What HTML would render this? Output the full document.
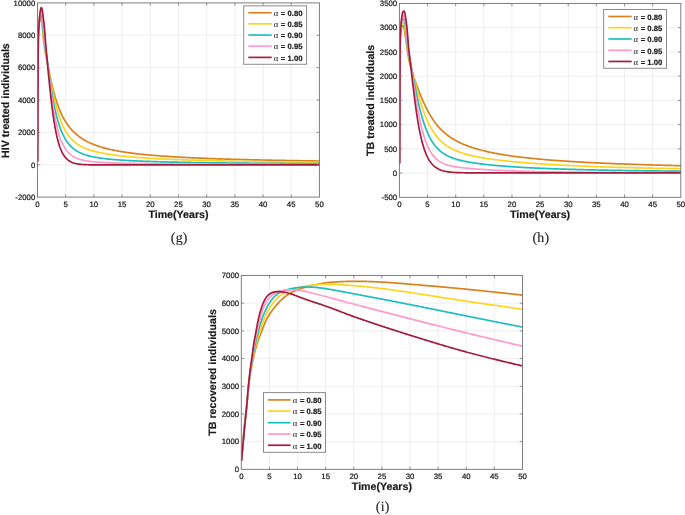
<!DOCTYPE html>
<html lang="en">
<head>
<meta charset="utf-8">
<title>Fractional-order HIV/TB model: treated and recovered individuals</title>
<style>
html,body{margin:0;padding:0;background:#fff;}
body{width:685px;height:515px;overflow:hidden;}
svg{display:block;will-change:transform;opacity:0.9999;}
text{white-space:pre;text-rendering:geometricPrecision;}
</style>
</head>
<body>
<svg width="685" height="515" viewBox="0 0 685 515">
<rect width="685" height="515" fill="#fff"/>
<g id="plot-g">
<rect x="37.5" y="2.9" width="281.90" height="194.20" fill="#fff"/>
<path d="M65.69 2.9V197.1M93.88 2.9V197.1M122.07 2.9V197.1M150.26 2.9V197.1M178.45 2.9V197.1M206.64 2.9V197.1M234.83 2.9V197.1M263.02 2.9V197.1M291.21 2.9V197.1M37.5 164.73H319.4M37.5 132.37H319.4M37.5 100.00H319.4M37.5 67.63H319.4M37.5 35.27H319.4" stroke="#e2e2e2" stroke-width="0.55" fill="none"/>
<clipPath id="clip-g"><rect x="37.2" y="2.9" width="282.50" height="194.20"/></clipPath>
<g clip-path="url(#clip-g)" fill="none" stroke-width="1.7" stroke-linejoin="round" stroke-linecap="butt">
<path d="M37.60 161.50L37.60 161.00L37.60 160.50L37.60 160.00L37.60 159.50L37.60 159.00L37.60 158.50L37.60 158.00L37.60 157.50L37.60 157.00L37.60 156.50L37.60 156.00L37.60 155.50L37.60 155.00L37.60 154.50L37.60 154.00L37.60 153.50L37.60 153.00L37.60 152.50L37.60 152.00L37.60 151.50L37.60 151.00L37.60 150.50L37.60 150.00L37.60 149.50L37.60 149.00L37.60 148.50L37.60 148.00L37.60 147.50L37.60 147.00L37.60 146.50L37.60 146.00L37.60 145.50L37.60 145.00L37.60 144.50L37.60 144.00L37.60 143.50L37.60 143.00L37.60 142.50L37.60 142.00L37.60 141.50L37.60 141.00L37.60 140.50L37.60 140.00L37.60 139.50L37.60 139.00L37.60 138.50L37.60 138.00L37.60 137.50L37.60 137.00L37.60 136.50L37.60 136.00L37.60 135.50L37.60 135.00L37.60 134.50L37.60 134.00L37.60 133.50L37.60 133.00L37.60 132.50L37.60 132.00L37.60 131.50L37.60 131.00L37.60 130.50L37.60 130.00L37.60 129.50L37.60 129.00L37.60 128.50L37.60 128.00L37.60 127.50L37.60 127.00L37.60 126.50L37.60 126.00L37.60 125.50L37.60 125.00L37.60 124.50L37.60 124.00L37.60 123.50L37.60 123.00L37.60 122.50L37.60 122.00L37.60 121.50L37.60 121.00L37.60 120.50L37.60 120.00L37.60 119.50L37.60 119.00L37.60 118.50L37.60 118.00L37.60 117.50L37.60 117.00L37.60 116.50L37.60 116.00L37.60 115.50L37.60 115.00L37.60 114.50L37.60 114.00L37.60 113.50L37.60 113.00L37.60 112.50L37.60 112.00L37.60 111.50L37.60 111.00L37.60 110.50L37.60 110.00L37.60 109.50L37.61 109.00L37.61 108.50L37.61 108.00L37.61 107.50L37.61 107.00L37.61 106.50L37.61 106.00L37.61 105.50L37.61 105.00L37.61 104.50L37.61 104.00L37.61 103.50L37.61 103.00L37.61 102.50L37.61 102.00L37.61 101.50L37.61 101.00L37.62 100.50L37.62 100.00L37.62 99.50L37.62 99.00L37.62 98.50L37.62 98.00L37.62 97.50L37.62 97.00L37.62 96.50L37.62 96.00L37.62 95.50L37.62 95.00L37.62 94.50L37.63 94.00L37.63 93.50L37.63 93.00L37.63 92.50L37.63 92.00L37.63 91.50L37.63 91.00L37.63 90.50L37.63 90.00L37.63 89.50L37.63 89.00L37.63 88.50L37.64 88.00L37.64 87.50L37.64 87.00L37.64 86.50L37.64 86.00L37.64 85.50L37.64 85.00L37.64 84.50L37.64 84.00L37.64 83.50L37.64 83.00L37.65 82.50L37.65 82.00L37.65 81.50L37.65 81.00L37.65 80.50L37.65 80.00L37.65 79.50L37.65 79.00L37.65 78.50L37.65 78.00L37.65 77.50L37.66 77.00L37.66 76.50L37.66 76.00L37.66 75.50L37.66 75.00L37.66 74.50L37.66 74.00L37.66 73.50L37.66 73.00L37.66 72.50L37.66 72.00L37.66 71.50L37.66 71.00L37.67 70.50L37.67 70.00L37.67 69.50L37.67 69.00L37.67 68.50L37.67 68.00L37.67 67.50L37.67 67.00L37.67 66.50L37.67 66.00L37.68 65.50L37.68 65.00L37.68 64.50L37.68 64.00L37.68 63.50L37.68 63.00L37.68 62.50L37.68 62.00L37.68 61.50L37.69 61.00L37.69 60.50L37.69 60.00L37.69 59.50L37.69 59.00L37.69 58.50L37.69 58.00L37.70 57.50L37.70 57.00L37.70 56.50L37.70 56.00L37.70 55.50L37.70 55.00L37.71 54.50L37.71 54.00L37.71 53.50L37.71 53.00L37.71 52.50L37.71 52.00L37.72 51.50L37.72 51.00L37.72 50.50L37.72 50.00L37.73 49.50L37.73 49.00L37.73 48.50L37.73 48.00L37.74 47.50L37.74 47.00L37.74 46.50L37.74 46.00L37.75 45.50L37.75 45.00L37.75 44.50L37.76 44.00L37.76 43.50L37.77 43.00L37.78 42.50L37.79 42.00L37.80 41.50L37.81 41.00L37.82 40.50L37.83 40.00L37.84 39.50L37.86 39.00L37.87 38.50L37.89 38.00L37.91 37.50L37.92 37.00L37.94 36.50L37.96 36.00L37.98 35.50L38.00 35.00L38.03 34.50L38.05 34.00L38.07 33.50L38.10 33.00L38.12 32.50L38.15 32.00L38.17 31.51L38.20 31.01L38.23 30.51L38.26 30.01L38.30 29.51L38.35 29.01L38.40 28.51L38.45 28.01L38.51 27.51L38.58 27.02L38.65 26.52L38.72 26.02L38.80 25.53L38.88 25.03L38.96 24.54L39.05 24.05L39.14 23.56L39.24 23.07L39.34 22.58L39.46 22.09L39.60 21.60L39.77 21.12L39.96 20.68L40.22 20.20L40.56 19.73L40.89 19.50L41.20 19.74L41.47 20.27L41.66 20.77L41.79 21.24L41.90 21.73L41.99 22.23L42.07 22.73L42.13 23.23L42.18 23.72L42.22 24.22L42.26 24.72L42.30 25.22L42.33 25.72L42.36 26.22L42.39 26.72L42.42 27.22L42.45 27.72L42.48 28.22L42.51 28.72L42.54 29.22L42.58 29.72L42.62 30.21L42.66 30.71L42.70 31.21L42.75 31.71L42.79 32.21L42.84 32.70L42.89 33.20L42.94 33.70L42.98 34.20L43.03 34.69L43.08 35.19L43.14 35.69L43.19 36.19L43.24 36.68L43.29 37.18L43.35 37.68L43.40 38.18L43.46 38.67L43.51 39.17L43.56 39.67L43.62 40.16L43.68 40.66L43.73 41.16L43.79 41.66L43.84 42.15L43.90 42.65L43.96 43.15L44.02 43.64L44.08 44.14L44.14 44.64L44.20 45.13L44.26 45.63L44.33 46.12L44.40 46.62L44.46 47.11L44.54 47.61L44.61 48.10L44.68 48.60L44.76 49.09L44.84 49.58L44.93 50.08L45.01 50.57L45.10 51.06L45.19 51.55L45.28 52.05L45.37 52.54L45.46 53.03L45.55 53.52L45.64 54.01L45.74 54.50L45.83 54.99L45.93 55.48L46.02 55.97L46.12 56.46L46.21 56.96L46.31 57.45L46.40 57.94L46.50 58.43L46.60 58.92L46.69 59.41L46.88 60.39L47.07 61.37L47.26 62.35L47.46 63.34L47.65 64.32L47.84 65.30L48.04 66.28L48.23 67.26L48.43 68.24L48.62 69.22L48.82 70.20L49.02 71.18L49.22 72.16L49.42 73.14L49.62 74.12L49.83 75.10L50.03 76.08L50.24 77.06L50.45 78.03L50.66 79.01L50.88 79.99L51.09 80.96L51.31 81.94L51.54 82.91L51.76 83.89L51.99 84.86L52.22 85.83L52.45 86.81L52.69 87.78L52.93 88.75L53.18 89.72L53.43 90.69L53.68 91.65L53.94 92.62L54.20 93.59L54.46 94.55L54.74 95.51L55.01 96.47L55.29 97.43L55.58 98.39L55.87 99.35L56.17 100.30L56.48 101.25L56.79 102.20L57.11 103.15L57.43 104.09L57.77 105.04L58.11 105.98L58.45 106.91L58.81 107.85L59.18 108.78L59.55 109.71L59.93 110.63L60.32 111.55L60.72 112.46L61.14 113.38L61.56 114.28L61.99 115.18L62.43 116.08L62.89 116.97L63.35 117.85L63.83 118.73L64.32 119.60L64.83 120.46L65.34 121.32L65.87 122.16L66.41 123.00L66.97 123.83L67.54 124.65L68.12 125.46L68.72 126.26L69.33 127.05L69.96 127.83L70.60 128.59L71.26 129.35L71.93 130.09L72.61 130.82L73.31 131.53L74.02 132.23L74.74 132.92L75.48 133.59L76.23 134.25L76.99 134.89L77.77 135.52L78.56 136.14L79.35 136.73L80.16 137.32L80.99 137.89L81.82 138.44L82.66 138.98L83.51 139.50L84.37 140.01L85.23 140.51L86.11 140.99L86.99 141.45L87.88 141.91L88.78 142.35L89.68 142.77L90.59 143.19L91.51 143.59L92.43 143.98L93.35 144.35L94.28 144.72L95.22 145.08L96.16 145.42L97.10 145.75L98.04 146.08L98.99 146.39L99.94 146.70L100.90 146.99L101.86 147.28L102.82 147.56L103.78 147.83L104.74 148.09L105.71 148.35L106.68 148.60L107.65 148.84L108.62 149.07L109.59 149.30L110.57 149.52L111.55 149.74L112.52 149.95L113.50 150.15L114.48 150.35L115.46 150.54L116.45 150.73L117.43 150.91L118.41 151.09L119.40 151.27L120.38 151.44L121.37 151.60L122.35 151.77L123.34 151.92L124.33 152.08L125.32 152.23L126.31 152.38L127.30 152.52L128.29 152.66L129.28 152.80L130.27 152.93L131.26 153.06L132.25 153.19L133.24 153.32L134.24 153.44L135.23 153.56L136.22 153.68L137.22 153.79L138.21 153.91L139.20 154.02L140.20 154.12L141.19 154.23L142.19 154.33L143.18 154.43L144.18 154.53L145.17 154.63L146.17 154.73L147.16 154.82L148.16 154.92L149.15 155.01L150.15 155.10L151.14 155.19L152.14 155.27L153.14 155.35L154.13 155.44L155.13 155.52L156.13 155.60L157.12 155.68L158.12 155.76L159.12 155.83L160.12 155.91L161.11 155.98L162.11 156.05L163.11 156.12L164.11 156.20L165.10 156.26L166.10 156.33L167.10 156.40L168.10 156.46L169.09 156.53L170.09 156.59L171.09 156.66L172.09 156.72L173.09 156.78L174.08 156.84L175.08 156.90L176.08 156.96L177.08 157.01L178.08 157.07L179.08 157.13L180.07 157.18L181.07 157.24L182.07 157.29L183.07 157.34L184.07 157.39L185.07 157.44L186.07 157.49L187.06 157.54L188.06 157.59L189.06 157.64L190.06 157.69L191.06 157.74L192.06 157.78L193.06 157.83L194.06 157.87L195.06 157.92L196.06 157.96L197.05 158.01L198.05 158.05L199.05 158.09L200.05 158.14L201.05 158.18L202.05 158.22L203.05 158.26L204.05 158.30L205.05 158.34L206.05 158.38L207.05 158.42L208.04 158.45L209.04 158.49L210.04 158.53L211.04 158.57L212.04 158.60L213.04 158.64L214.04 158.68L215.04 158.71L216.04 158.75L217.04 158.78L218.04 158.81L219.04 158.85L220.04 158.88L221.04 158.91L222.04 158.95L223.04 158.98L224.03 159.01L225.03 159.04L226.03 159.07L227.03 159.10L228.03 159.14L229.03 159.17L230.03 159.20L231.03 159.23L232.03 159.25L233.03 159.28L234.03 159.31L235.03 159.34L236.03 159.37L237.03 159.40L238.03 159.42L239.03 159.45L240.03 159.48L241.03 159.51L242.03 159.53L243.03 159.56L244.03 159.59L245.03 159.61L246.03 159.64L247.03 159.66L248.03 159.69L249.02 159.71L250.02 159.74L251.02 159.76L252.02 159.79L253.02 159.81L254.02 159.83L255.02 159.86L256.02 159.88L257.02 159.90L258.02 159.92L259.02 159.95L260.02 159.97L261.02 159.99L262.02 160.01L263.02 160.04L264.02 160.06L265.02 160.08L266.02 160.10L267.02 160.12L268.02 160.14L269.02 160.16L270.02 160.18L271.02 160.20L272.02 160.23L273.02 160.24L274.02 160.26L275.02 160.28L276.02 160.30L277.02 160.32L278.02 160.34L279.02 160.36L280.02 160.38L281.02 160.40L282.02 160.42L283.02 160.43L284.02 160.45L285.02 160.47L286.02 160.49L287.02 160.51L288.02 160.52L289.02 160.54L290.02 160.56L291.02 160.58L292.02 160.59L293.02 160.61L294.02 160.63L295.01 160.64L296.01 160.66L297.01 160.68L298.01 160.69L299.01 160.71L300.01 160.73L301.01 160.74L302.01 160.76L303.01 160.77L304.01 160.79L305.01 160.80L306.01 160.82L307.01 160.83L308.01 160.85L309.01 160.86L310.01 160.88L311.01 160.89L312.01 160.91L313.01 160.92L314.01 160.94L315.01 160.95L316.01 160.97L317.01 160.98L318.01 160.99L319.00 161.01L320.00 161.02" stroke="#D9821E"/>
<path d="M37.60 161.50L37.60 161.00L37.60 160.50L37.60 160.00L37.60 159.50L37.60 159.00L37.60 158.50L37.60 158.00L37.60 157.50L37.60 157.00L37.60 156.50L37.60 156.00L37.60 155.50L37.60 155.00L37.60 154.50L37.60 154.00L37.60 153.50L37.60 153.00L37.60 152.50L37.60 152.00L37.60 151.50L37.60 151.00L37.60 150.50L37.60 150.00L37.60 149.50L37.60 149.00L37.60 148.50L37.60 148.00L37.60 147.50L37.60 147.00L37.60 146.50L37.60 146.00L37.60 145.50L37.60 145.00L37.60 144.50L37.60 144.00L37.60 143.50L37.60 143.00L37.61 142.50L37.61 142.00L37.61 141.50L37.61 141.00L37.61 140.50L37.61 140.00L37.61 139.50L37.61 139.00L37.61 138.50L37.61 138.00L37.61 137.50L37.61 137.00L37.61 136.50L37.61 136.00L37.61 135.50L37.61 135.00L37.61 134.50L37.61 134.00L37.61 133.50L37.61 133.00L37.61 132.50L37.61 132.00L37.61 131.50L37.61 131.00L37.61 130.50L37.61 130.00L37.61 129.50L37.61 129.00L37.61 128.50L37.61 128.00L37.61 127.50L37.61 127.00L37.62 126.50L37.62 126.00L37.62 125.50L37.62 125.00L37.62 124.50L37.62 124.00L37.62 123.50L37.62 123.00L37.62 122.50L37.62 122.00L37.62 121.50L37.62 121.00L37.62 120.50L37.62 120.00L37.62 119.50L37.62 119.00L37.62 118.50L37.62 118.00L37.62 117.50L37.62 117.00L37.62 116.50L37.62 116.00L37.62 115.50L37.63 115.00L37.63 114.50L37.63 114.00L37.63 113.50L37.63 113.00L37.63 112.50L37.63 112.00L37.63 111.50L37.63 111.00L37.63 110.50L37.63 110.00L37.63 109.50L37.63 109.00L37.64 108.50L37.64 108.00L37.64 107.50L37.64 107.00L37.64 106.50L37.64 106.00L37.64 105.50L37.64 105.00L37.64 104.50L37.64 104.00L37.64 103.50L37.65 103.00L37.65 102.50L37.65 102.00L37.65 101.50L37.65 101.00L37.65 100.50L37.65 100.00L37.65 99.50L37.65 99.00L37.66 98.50L37.66 98.00L37.66 97.50L37.66 97.00L37.66 96.50L37.66 96.00L37.66 95.50L37.66 95.00L37.66 94.50L37.67 94.00L37.67 93.50L37.67 93.00L37.67 92.50L37.67 92.00L37.67 91.50L37.67 91.00L37.67 90.50L37.68 90.00L37.68 89.50L37.68 89.00L37.68 88.50L37.68 88.00L37.68 87.50L37.68 87.00L37.68 86.50L37.69 86.00L37.69 85.50L37.69 85.00L37.69 84.50L37.69 84.00L37.69 83.50L37.69 83.00L37.69 82.50L37.70 82.00L37.70 81.50L37.70 81.00L37.70 80.50L37.70 80.00L37.70 79.50L37.70 79.00L37.70 78.50L37.70 78.00L37.71 77.50L37.71 77.00L37.71 76.50L37.71 76.00L37.71 75.50L37.71 75.00L37.71 74.50L37.71 74.00L37.71 73.50L37.71 73.00L37.72 72.50L37.72 72.00L37.72 71.50L37.72 71.00L37.72 70.50L37.72 70.00L37.72 69.50L37.72 69.00L37.72 68.50L37.72 68.00L37.72 67.50L37.73 67.00L37.73 66.50L37.73 66.00L37.73 65.50L37.73 65.00L37.73 64.50L37.73 64.00L37.73 63.50L37.73 63.00L37.73 62.50L37.74 62.00L37.74 61.50L37.74 61.00L37.74 60.50L37.74 60.00L37.74 59.50L37.74 59.00L37.74 58.50L37.75 58.00L37.75 57.50L37.75 57.00L37.75 56.50L37.75 56.00L37.75 55.50L37.76 55.00L37.76 54.50L37.76 54.00L37.76 53.50L37.76 53.00L37.76 52.50L37.77 52.00L37.77 51.50L37.77 51.00L37.77 50.50L37.77 50.00L37.78 49.50L37.78 49.00L37.78 48.50L37.78 48.00L37.79 47.50L37.79 47.00L37.79 46.50L37.79 46.00L37.80 45.50L37.80 45.00L37.80 44.50L37.81 44.00L37.81 43.50L37.82 43.00L37.83 42.50L37.83 42.00L37.84 41.50L37.85 41.00L37.86 40.50L37.87 40.00L37.88 39.50L37.90 39.00L37.91 38.50L37.92 38.00L37.94 37.50L37.95 36.99L37.97 36.49L37.99 35.99L38.00 35.49L38.02 34.99L38.04 34.49L38.06 33.99L38.08 33.50L38.10 33.00L38.13 32.50L38.15 32.00L38.17 31.50L38.20 31.00L38.22 30.50L38.25 30.00L38.27 29.51L38.30 29.01L38.33 28.51L38.36 28.01L38.40 27.51L38.45 27.01L38.50 26.51L38.55 26.01L38.61 25.51L38.68 25.02L38.75 24.52L38.82 24.02L38.90 23.53L38.98 23.03L39.06 22.54L39.15 22.05L39.24 21.56L39.34 21.07L39.44 20.59L39.56 20.09L39.70 19.60L39.87 19.13L40.06 18.68L40.32 18.20L40.66 17.73L40.99 17.50L41.30 17.74L41.57 18.27L41.76 18.77L41.89 19.24L42.00 19.73L42.09 20.23L42.17 20.73L42.23 21.23L42.28 21.72L42.32 22.22L42.36 22.72L42.40 23.22L42.43 23.72L42.46 24.21L42.49 24.71L42.52 25.22L42.55 25.72L42.58 26.22L42.61 26.72L42.64 27.22L42.68 27.72L42.72 28.21L42.76 28.71L42.80 29.21L42.85 29.71L42.89 30.21L42.94 30.70L42.99 31.20L43.03 31.70L43.08 32.20L43.13 32.69L43.18 33.19L43.23 33.69L43.28 34.19L43.33 34.68L43.39 35.18L43.44 35.68L43.49 36.18L43.54 36.67L43.60 37.17L43.65 37.67L43.70 38.17L43.76 38.66L43.81 39.16L43.86 39.66L43.92 40.15L43.97 40.65L44.02 41.15L44.07 41.65L44.12 42.14L44.18 42.64L44.23 43.14L44.28 43.64L44.34 44.13L44.39 44.63L44.45 45.13L44.51 45.62L44.57 46.12L44.63 46.62L44.69 47.11L44.76 47.61L44.83 48.10L44.90 48.60L44.97 49.09L45.04 49.59L45.12 50.08L45.20 50.57L45.28 51.07L45.36 51.56L45.44 52.05L45.52 52.55L45.61 53.04L45.70 53.53L45.78 54.02L45.87 54.52L45.96 55.01L46.04 55.50L46.13 55.99L46.22 56.48L46.31 56.98L46.40 57.47L46.57 58.45L46.75 59.44L46.93 60.42L47.10 61.41L47.28 62.39L47.45 63.37L47.63 64.36L47.81 65.34L47.98 66.33L48.16 67.31L48.34 68.30L48.51 69.28L48.69 70.26L48.87 71.25L49.04 72.23L49.22 73.22L49.40 74.20L49.58 75.18L49.76 76.17L49.94 77.15L50.12 78.13L50.31 79.12L50.49 80.10L50.68 81.08L50.86 82.07L51.05 83.05L51.24 84.03L51.43 85.01L51.62 85.99L51.82 86.97L52.01 87.95L52.21 88.93L52.41 89.91L52.61 90.89L52.82 91.87L53.02 92.85L53.23 93.83L53.44 94.81L53.66 95.78L53.87 96.76L54.09 97.73L54.32 98.71L54.54 99.68L54.77 100.66L55.01 101.63L55.24 102.60L55.48 103.57L55.73 104.54L55.98 105.51L56.23 106.48L56.49 107.44L56.75 108.41L57.02 109.37L57.29 110.33L57.57 111.29L57.86 112.25L58.15 113.21L58.45 114.16L58.75 115.11L59.06 116.06L59.38 117.01L59.71 117.96L60.04 118.90L60.38 119.84L60.74 120.77L61.10 121.70L61.47 122.63L61.86 123.55L62.25 124.47L62.66 125.38L63.07 126.29L63.50 127.19L63.95 128.09L64.41 128.98L64.88 129.86L65.37 130.73L65.87 131.59L66.39 132.44L66.93 133.28L67.48 134.11L68.06 134.93L68.65 135.73L69.26 136.52L69.89 137.29L70.54 138.05L71.21 138.79L71.90 139.51L72.60 140.21L73.33 140.89L74.08 141.55L74.84 142.20L75.62 142.81L76.42 143.41L77.23 143.99L78.06 144.54L78.90 145.07L79.76 145.59L80.63 146.08L81.51 146.55L82.40 147.00L83.30 147.43L84.21 147.84L85.12 148.24L86.05 148.61L86.98 148.98L87.91 149.32L88.86 149.66L89.80 149.97L90.75 150.28L91.71 150.57L92.67 150.85L93.63 151.12L94.60 151.38L95.57 151.63L96.54 151.87L97.51 152.10L98.48 152.32L99.46 152.54L100.44 152.75L101.42 152.95L102.40 153.14L103.38 153.33L104.36 153.51L105.35 153.69L106.33 153.86L107.32 154.02L108.30 154.18L109.29 154.34L110.28 154.49L111.27 154.63L112.26 154.78L113.25 154.92L114.24 155.05L115.23 155.18L116.22 155.31L117.22 155.44L118.21 155.56L119.20 155.68L120.19 155.79L121.19 155.90L122.18 156.01L123.18 156.12L124.17 156.22L125.17 156.33L126.16 156.43L127.16 156.52L128.15 156.62L129.15 156.71L130.14 156.80L131.14 156.89L132.13 156.98L133.13 157.07L134.13 157.15L135.12 157.23L136.12 157.31L137.12 157.39L138.11 157.47L139.11 157.54L140.11 157.62L141.11 157.69L142.10 157.76L143.10 157.83L144.10 157.90L145.10 157.97L146.09 158.03L147.09 158.10L148.09 158.16L149.09 158.22L150.09 158.28L151.08 158.34L152.08 158.40L153.08 158.46L154.08 158.52L155.08 158.58L156.08 158.63L157.07 158.69L158.07 158.74L159.07 158.79L160.07 158.84L161.07 158.89L162.07 158.94L163.07 158.99L164.07 159.04L165.06 159.09L166.06 159.13L167.06 159.18L168.06 159.23L169.06 159.27L170.06 159.31L171.06 159.36L172.06 159.40L173.06 159.44L174.06 159.48L175.06 159.53L176.05 159.57L177.05 159.61L178.05 159.64L179.05 159.68L180.05 159.72L181.05 159.76L182.05 159.79L183.05 159.83L184.05 159.87L185.05 159.90L186.05 159.94L187.05 159.97L188.05 160.00L189.05 160.04L190.04 160.07L191.04 160.10L192.04 160.14L193.04 160.17L194.04 160.20L195.04 160.23L196.04 160.26L197.04 160.29L198.04 160.32L199.04 160.35L200.04 160.38L201.04 160.41L202.04 160.44L203.04 160.46L204.04 160.49L205.04 160.52L206.04 160.54L207.04 160.57L208.04 160.60L209.04 160.62L210.04 160.65L211.04 160.67L212.04 160.70L213.04 160.72L214.04 160.75L215.03 160.77L216.03 160.80L217.03 160.82L218.03 160.84L219.03 160.87L220.03 160.89L221.03 160.91L222.03 160.94L223.03 160.96L224.03 160.98L225.03 161.00L226.03 161.02L227.03 161.05L228.03 161.07L229.03 161.09L230.03 161.11L231.03 161.13L232.03 161.15L233.03 161.17L234.03 161.19L235.03 161.21L236.03 161.23L237.03 161.24L238.03 161.26L239.03 161.28L240.03 161.30L241.03 161.32L242.03 161.34L243.03 161.35L244.03 161.37L245.03 161.39L246.03 161.41L247.03 161.42L248.03 161.44L249.03 161.46L250.03 161.48L251.03 161.49L252.03 161.51L253.03 161.52L254.03 161.54L255.03 161.56L256.03 161.57L257.03 161.59L258.03 161.60L259.03 161.62L260.03 161.63L261.03 161.65L262.03 161.66L263.03 161.68L264.03 161.69L265.03 161.71L266.03 161.72L267.03 161.74L268.02 161.75L269.02 161.77L270.02 161.78L271.02 161.79L272.02 161.81L273.02 161.82L274.02 161.84L275.02 161.85L276.02 161.86L277.02 161.88L278.02 161.89L279.02 161.90L280.02 161.91L281.02 161.93L282.02 161.94L283.02 161.95L284.02 161.96L285.02 161.98L286.02 161.99L287.02 162.00L288.02 162.01L289.02 162.02L290.02 162.04L291.02 162.05L292.02 162.06L293.02 162.07L294.02 162.08L295.02 162.09L296.02 162.10L297.02 162.12L298.02 162.13L299.02 162.14L300.02 162.15L301.02 162.16L302.02 162.17L303.02 162.18L304.02 162.19L305.02 162.20L306.02 162.21L307.02 162.22L308.02 162.23L309.02 162.24L310.02 162.25L311.02 162.26L312.02 162.27L313.02 162.28L314.02 162.29L315.02 162.30L316.02 162.31L317.01 162.32L318.01 162.33L319.01 162.34L320.00 162.35" stroke="#FDD420"/>
<path d="M37.60 161.50L37.60 161.00L37.60 160.50L37.60 160.00L37.60 159.50L37.60 159.00L37.60 158.50L37.60 158.00L37.60 157.50L37.60 157.00L37.60 156.50L37.60 156.00L37.60 155.50L37.60 155.00L37.60 154.50L37.61 154.00L37.61 153.50L37.61 153.00L37.61 152.50L37.61 152.00L37.61 151.50L37.61 151.00L37.61 150.50L37.61 150.00L37.61 149.50L37.61 149.00L37.61 148.50L37.61 148.00L37.61 147.50L37.61 147.00L37.61 146.50L37.61 146.00L37.61 145.50L37.61 145.00L37.61 144.50L37.62 144.00L37.62 143.50L37.62 143.00L37.62 142.50L37.62 142.00L37.62 141.50L37.62 141.00L37.62 140.50L37.62 140.00L37.62 139.50L37.62 139.00L37.62 138.50L37.62 138.00L37.62 137.50L37.62 137.00L37.62 136.50L37.63 136.00L37.63 135.50L37.63 135.00L37.63 134.50L37.63 134.00L37.63 133.50L37.63 133.00L37.63 132.50L37.63 132.00L37.63 131.50L37.63 131.00L37.63 130.50L37.63 130.00L37.64 129.50L37.64 129.00L37.64 128.50L37.64 128.00L37.64 127.50L37.64 127.00L37.64 126.50L37.64 126.00L37.64 125.50L37.64 125.00L37.64 124.50L37.64 124.00L37.64 123.50L37.65 123.00L37.65 122.50L37.65 122.00L37.65 121.50L37.65 121.00L37.65 120.50L37.65 120.00L37.65 119.50L37.65 119.00L37.65 118.50L37.65 118.00L37.65 117.50L37.66 117.00L37.66 116.50L37.66 116.00L37.66 115.50L37.66 115.00L37.66 114.50L37.66 114.00L37.66 113.50L37.66 113.00L37.66 112.50L37.66 112.00L37.67 111.50L37.67 111.00L37.67 110.50L37.67 110.00L37.67 109.50L37.67 109.00L37.67 108.50L37.67 108.00L37.67 107.50L37.68 107.00L37.68 106.50L37.68 106.00L37.68 105.50L37.68 105.00L37.68 104.50L37.68 104.00L37.68 103.50L37.68 103.00L37.69 102.50L37.69 102.00L37.69 101.50L37.69 101.00L37.69 100.50L37.69 100.00L37.69 99.50L37.69 99.00L37.70 98.50L37.70 98.00L37.70 97.50L37.70 97.00L37.70 96.50L37.70 96.00L37.70 95.50L37.71 95.00L37.71 94.50L37.71 94.00L37.71 93.50L37.71 93.00L37.71 92.50L37.71 92.00L37.72 91.50L37.72 91.00L37.72 90.50L37.72 90.00L37.72 89.50L37.72 89.00L37.72 88.50L37.73 88.00L37.73 87.50L37.73 87.00L37.73 86.50L37.73 86.00L37.73 85.50L37.73 85.00L37.74 84.50L37.74 84.00L37.74 83.50L37.74 83.00L37.74 82.50L37.74 82.00L37.75 81.50L37.75 81.00L37.75 80.50L37.75 80.00L37.75 79.50L37.75 79.00L37.75 78.50L37.76 78.00L37.76 77.50L37.76 77.00L37.76 76.50L37.76 76.00L37.76 75.50L37.76 75.00L37.77 74.50L37.77 74.00L37.77 73.50L37.77 73.00L37.77 72.50L37.77 72.00L37.77 71.50L37.78 71.00L37.78 70.50L37.78 70.00L37.78 69.50L37.78 69.00L37.78 68.50L37.78 68.00L37.79 67.50L37.79 67.00L37.79 66.50L37.79 66.00L37.79 65.50L37.79 65.00L37.80 64.50L37.80 64.00L37.80 63.50L37.80 63.00L37.80 62.50L37.80 62.00L37.81 61.50L37.81 61.00L37.81 60.50L37.81 60.00L37.81 59.50L37.82 59.00L37.82 58.50L37.82 58.00L37.82 57.50L37.82 57.00L37.83 56.50L37.83 56.00L37.83 55.50L37.83 55.00L37.84 54.50L37.84 54.00L37.84 53.50L37.85 53.00L37.85 52.50L37.85 52.00L37.85 51.50L37.86 51.00L37.86 50.50L37.86 50.00L37.87 49.50L37.87 49.00L37.87 48.50L37.88 48.00L37.88 47.50L37.88 47.00L37.89 46.50L37.89 46.00L37.90 45.50L37.90 45.00L37.90 44.50L37.91 44.00L37.92 43.50L37.92 43.00L37.93 42.50L37.94 42.00L37.95 41.50L37.96 41.00L37.97 40.50L37.98 40.00L37.99 39.50L38.00 39.00L38.02 38.50L38.03 38.00L38.05 37.50L38.06 37.00L38.08 36.50L38.10 36.00L38.11 35.50L38.13 35.00L38.15 34.50L38.17 34.00L38.19 33.50L38.21 33.00L38.23 32.50L38.25 32.00L38.28 31.50L38.30 31.00L38.32 30.50L38.35 30.00L38.37 29.50L38.40 29.01L38.42 28.51L38.45 28.01L38.48 27.51L38.51 27.01L38.54 26.51L38.58 26.01L38.62 25.51L38.67 25.01L38.72 24.51L38.77 24.01L38.83 23.51L38.88 23.01L38.95 22.51L39.01 22.02L39.08 21.52L39.16 21.03L39.23 20.53L39.31 20.04L39.40 19.55L39.49 19.07L39.59 18.58L39.71 18.09L39.85 17.60L40.02 17.12L40.22 16.67L40.47 16.19L40.80 15.71L41.11 15.50L41.42 15.78L41.69 16.32L41.87 16.80L42.00 17.28L42.11 17.77L42.20 18.27L42.27 18.77L42.33 19.27L42.38 19.76L42.43 20.26L42.48 20.75L42.52 21.25L42.55 21.75L42.59 22.25L42.62 22.75L42.65 23.25L42.68 23.75L42.71 24.25L42.74 24.75L42.77 25.25L42.81 25.75L42.84 26.25L42.88 26.75L42.92 27.25L42.96 27.74L43.01 28.24L43.05 28.74L43.10 29.24L43.15 29.74L43.19 30.23L43.24 30.73L43.29 31.23L43.34 31.73L43.39 32.22L43.44 32.72L43.49 33.22L43.54 33.72L43.59 34.21L43.64 34.71L43.70 35.21L43.75 35.71L43.80 36.20L43.85 36.70L43.90 37.20L43.96 37.70L44.01 38.19L44.06 38.69L44.11 39.19L44.16 39.69L44.21 40.18L44.26 40.68L44.31 41.18L44.36 41.68L44.40 42.18L44.45 42.68L44.50 43.18L44.55 43.67L44.60 44.17L44.65 44.67L44.71 45.17L44.76 45.66L44.82 46.16L44.88 46.66L44.95 47.15L45.02 47.65L45.09 48.14L45.16 48.63L45.24 49.12L45.33 49.62L45.41 50.11L45.50 50.60L45.59 51.09L45.68 51.58L45.77 52.07L45.86 52.56L45.95 53.05L46.04 53.54L46.13 54.03L46.22 54.53L46.31 55.02L46.40 55.51L46.48 56.00L46.56 56.50L46.73 57.48L46.88 58.47L47.04 59.46L47.19 60.45L47.33 61.44L47.48 62.42L47.62 63.41L47.76 64.40L47.90 65.39L48.04 66.39L48.18 67.38L48.32 68.37L48.45 69.36L48.59 70.35L48.73 71.34L48.86 72.33L49.00 73.32L49.14 74.31L49.28 75.30L49.42 76.29L49.55 77.28L49.69 78.27L49.84 79.26L49.98 80.25L50.12 81.24L50.26 82.23L50.41 83.22L50.55 84.21L50.70 85.20L50.85 86.19L51.00 87.18L51.15 88.16L51.30 89.15L51.46 90.14L51.62 91.13L51.77 92.11L51.93 93.10L52.10 94.09L52.26 95.07L52.43 96.06L52.60 97.05L52.77 98.03L52.94 99.02L53.12 100.00L53.30 100.98L53.48 101.97L53.67 102.95L53.86 103.93L54.05 104.91L54.25 105.89L54.45 106.87L54.65 107.85L54.86 108.83L55.07 109.81L55.29 110.78L55.51 111.76L55.73 112.73L55.96 113.71L56.20 114.68L56.44 115.65L56.69 116.62L56.94 117.58L57.20 118.55L57.46 119.51L57.73 120.48L58.01 121.44L58.29 122.39L58.59 123.35L58.89 124.30L59.20 125.25L59.52 126.20L59.85 127.15L60.19 128.09L60.53 129.02L60.89 129.95L61.27 130.88L61.65 131.80L62.05 132.72L62.46 133.63L62.88 134.54L63.32 135.43L63.77 136.32L64.24 137.21L64.73 138.08L65.23 138.94L65.75 139.79L66.29 140.63L66.85 141.45L67.43 142.26L68.04 143.06L68.66 143.84L69.30 144.60L69.97 145.34L70.65 146.06L71.36 146.76L72.09 147.44L72.84 148.09L73.61 148.73L74.40 149.33L75.21 149.91L76.03 150.47L76.87 151.00L77.73 151.51L78.60 151.99L79.49 152.45L80.39 152.89L81.29 153.30L82.21 153.68L83.14 154.05L84.08 154.40L85.02 154.73L85.97 155.04L86.92 155.33L87.88 155.61L88.85 155.87L89.81 156.12L90.78 156.35L91.76 156.57L92.74 156.78L93.72 156.98L94.70 157.17L95.68 157.35L96.67 157.52L97.65 157.69L98.64 157.84L99.63 157.99L100.62 158.13L101.61 158.27L102.60 158.40L103.59 158.52L104.58 158.64L105.58 158.75L106.57 158.86L107.57 158.97L108.56 159.07L109.56 159.17L110.55 159.26L111.55 159.36L112.54 159.44L113.54 159.53L114.54 159.61L115.53 159.69L116.53 159.77L117.53 159.84L118.52 159.92L119.52 159.99L120.52 160.06L121.52 160.12L122.51 160.19L123.51 160.25L124.51 160.31L125.51 160.37L126.51 160.43L127.51 160.49L128.50 160.54L129.50 160.59L130.50 160.65L131.50 160.70L132.50 160.75L133.50 160.80L134.50 160.85L135.50 160.89L136.49 160.94L137.49 160.98L138.49 161.03L139.49 161.07L140.49 161.11L141.49 161.16L142.49 161.20L143.49 161.23L144.49 161.27L145.49 161.31L146.49 161.35L147.49 161.38L148.48 161.42L149.48 161.45L150.48 161.49L151.48 161.52L152.48 161.55L153.48 161.59L154.48 161.62L155.48 161.65L156.48 161.68L157.48 161.71L158.48 161.74L159.48 161.77L160.48 161.80L161.48 161.83L162.48 161.85L163.48 161.88L164.48 161.91L165.48 161.93L166.48 161.96L167.48 161.99L168.48 162.01L169.48 162.04L170.47 162.06L171.47 162.08L172.47 162.11L173.47 162.13L174.47 162.15L175.47 162.17L176.47 162.20L177.47 162.22L178.47 162.24L179.47 162.26L180.47 162.28L181.47 162.30L182.47 162.32L183.47 162.34L184.47 162.36L185.47 162.38L186.47 162.40L187.47 162.42L188.47 162.44L189.47 162.45L190.47 162.47L191.47 162.49L192.47 162.51L193.47 162.52L194.47 162.54L195.47 162.56L196.47 162.57L197.47 162.59L198.47 162.61L199.47 162.62L200.47 162.64L201.47 162.65L202.47 162.67L203.47 162.69L204.47 162.70L205.47 162.72L206.47 162.73L207.47 162.74L208.47 162.76L209.47 162.77L210.47 162.79L211.47 162.80L212.47 162.81L213.47 162.83L214.47 162.84L215.47 162.85L216.47 162.87L217.47 162.88L218.47 162.89L219.47 162.90L220.47 162.91L221.47 162.93L222.47 162.94L223.47 162.95L224.47 162.96L225.47 162.97L226.47 162.98L227.47 163.00L228.47 163.01L229.47 163.02L230.47 163.03L231.47 163.04L232.47 163.05L233.47 163.06L234.47 163.07L235.47 163.08L236.47 163.09L237.47 163.10L238.47 163.11L239.47 163.12L240.47 163.13L241.47 163.14L242.47 163.15L243.47 163.16L244.47 163.17L245.47 163.18L246.47 163.19L247.47 163.20L248.47 163.21L249.47 163.22L250.46 163.23L251.46 163.23L252.46 163.24L253.46 163.25L254.46 163.26L255.46 163.27L256.46 163.28L257.46 163.29L258.46 163.29L259.46 163.30L260.46 163.31L261.46 163.32L262.46 163.33L263.46 163.33L264.46 163.34L265.46 163.35L266.46 163.36L267.46 163.36L268.46 163.37L269.46 163.38L270.46 163.39L271.46 163.39L272.46 163.40L273.46 163.41L274.46 163.41L275.46 163.42L276.46 163.43L277.46 163.43L278.46 163.44L279.46 163.45L280.46 163.45L281.46 163.46L282.46 163.47L283.46 163.47L284.46 163.48L285.46 163.49L286.46 163.49L287.46 163.50L288.46 163.51L289.46 163.51L290.46 163.52L291.46 163.53L292.46 163.53L293.46 163.54L294.46 163.54L295.46 163.55L296.46 163.56L297.46 163.56L298.46 163.57L299.46 163.57L300.46 163.58L301.46 163.58L302.46 163.59L303.46 163.60L304.46 163.60L305.46 163.61L306.46 163.61L307.46 163.62L308.46 163.62L309.46 163.63L310.46 163.63L311.46 163.64L312.46 163.64L313.45 163.65L314.44 163.65L315.42 163.66L316.38 163.66L317.32 163.67L318.23 163.67L319.12 163.68L320.00 163.68" stroke="#1CBEC0"/>
<path d="M37.60 161.50L37.60 161.00L37.60 160.50L37.60 160.00L37.60 159.50L37.60 159.00L37.61 158.50L37.61 158.00L37.61 157.50L37.61 157.00L37.61 156.50L37.61 156.00L37.61 155.50L37.61 155.00L37.61 154.50L37.61 154.00L37.62 153.50L37.62 153.00L37.62 152.50L37.62 152.00L37.62 151.50L37.62 151.00L37.62 150.50L37.62 150.00L37.62 149.50L37.62 149.00L37.63 148.50L37.63 148.00L37.63 147.50L37.63 147.00L37.63 146.50L37.63 146.00L37.63 145.50L37.63 145.00L37.63 144.50L37.64 144.00L37.64 143.50L37.64 143.00L37.64 142.50L37.64 142.00L37.64 141.50L37.64 141.00L37.64 140.50L37.65 140.00L37.65 139.50L37.65 139.00L37.65 138.50L37.65 138.00L37.65 137.50L37.65 137.00L37.65 136.50L37.66 136.00L37.66 135.50L37.66 135.00L37.66 134.50L37.66 134.00L37.66 133.50L37.66 133.00L37.66 132.50L37.67 132.00L37.67 131.50L37.67 131.00L37.67 130.50L37.67 130.00L37.67 129.50L37.67 129.00L37.68 128.50L37.68 128.00L37.68 127.50L37.68 127.00L37.68 126.50L37.68 126.00L37.68 125.50L37.69 125.00L37.69 124.50L37.69 124.00L37.69 123.50L37.69 123.00L37.69 122.50L37.69 122.00L37.70 121.50L37.70 121.00L37.70 120.50L37.70 120.00L37.70 119.50L37.70 119.00L37.70 118.50L37.71 118.00L37.71 117.50L37.71 117.00L37.71 116.50L37.71 116.00L37.71 115.50L37.72 115.00L37.72 114.50L37.72 114.00L37.72 113.50L37.72 113.00L37.72 112.50L37.73 112.00L37.73 111.50L37.73 111.00L37.73 110.50L37.73 110.00L37.73 109.50L37.74 109.00L37.74 108.50L37.74 108.00L37.74 107.50L37.74 107.00L37.75 106.50L37.75 106.00L37.75 105.50L37.75 105.00L37.75 104.50L37.75 104.00L37.76 103.50L37.76 103.00L37.76 102.50L37.76 102.00L37.76 101.50L37.77 101.00L37.77 100.50L37.77 100.00L37.77 99.50L37.77 99.00L37.78 98.50L37.78 98.00L37.78 97.50L37.78 97.00L37.78 96.50L37.79 96.00L37.79 95.50L37.79 95.00L37.79 94.50L37.79 94.00L37.80 93.50L37.80 93.00L37.80 92.50L37.80 92.00L37.80 91.50L37.81 91.00L37.81 90.50L37.81 90.00L37.81 89.50L37.81 89.00L37.82 88.50L37.82 88.00L37.82 87.50L37.82 87.00L37.82 86.50L37.83 86.00L37.83 85.50L37.83 85.00L37.83 84.50L37.83 84.00L37.84 83.50L37.84 83.00L37.84 82.50L37.84 82.00L37.84 81.50L37.85 81.00L37.85 80.50L37.85 80.00L37.85 79.50L37.85 79.00L37.86 78.50L37.86 78.00L37.86 77.50L37.86 77.00L37.86 76.50L37.86 76.00L37.87 75.50L37.87 75.00L37.87 74.50L37.87 74.00L37.87 73.50L37.87 73.00L37.88 72.50L37.88 72.00L37.88 71.50L37.88 71.00L37.88 70.50L37.88 70.00L37.88 69.50L37.89 69.00L37.89 68.50L37.89 68.00L37.89 67.50L37.89 67.00L37.89 66.50L37.90 66.00L37.90 65.50L37.90 65.00L37.90 64.50L37.90 64.00L37.90 63.50L37.90 63.00L37.91 62.50L37.91 62.00L37.91 61.50L37.91 61.00L37.91 60.50L37.92 60.00L37.92 59.50L37.92 59.00L37.92 58.50L37.92 58.00L37.93 57.50L37.93 57.00L37.93 56.50L37.93 56.00L37.93 55.50L37.94 55.00L37.94 54.50L37.94 54.00L37.94 53.50L37.95 53.00L37.95 52.50L37.95 52.00L37.95 51.50L37.96 51.00L37.96 50.50L37.96 50.00L37.97 49.50L37.97 49.00L37.97 48.50L37.98 48.00L37.98 47.50L37.98 47.00L37.99 46.50L37.99 46.00L38.00 45.50L38.00 45.00L38.00 44.50L38.01 44.00L38.02 43.50L38.02 43.00L38.03 42.50L38.04 42.00L38.05 41.50L38.06 41.00L38.07 40.50L38.08 40.00L38.10 39.50L38.11 39.00L38.12 38.50L38.14 38.00L38.15 37.50L38.17 37.00L38.19 36.50L38.20 36.00L38.22 35.50L38.24 35.00L38.26 34.50L38.28 34.00L38.30 33.50L38.32 33.00L38.34 32.50L38.36 32.00L38.38 31.50L38.41 31.00L38.43 30.50L38.45 30.00L38.48 29.51L38.50 29.01L38.52 28.51L38.55 28.01L38.57 27.51L38.60 27.01L38.63 26.51L38.65 26.01L38.68 25.51L38.71 25.01L38.75 24.51L38.78 24.01L38.82 23.51L38.86 23.01L38.90 22.51L38.94 22.01L38.98 21.51L39.03 21.01L39.08 20.52L39.13 20.02L39.18 19.52L39.24 19.02L39.30 18.52L39.35 18.03L39.42 17.53L39.48 17.04L39.55 16.55L39.62 16.05L39.69 15.56L39.77 15.07L39.86 14.57L39.96 14.07L40.08 13.58L40.22 13.10L40.38 12.64L40.61 12.13L40.91 11.62L41.21 11.40L41.49 11.66L41.76 12.20L41.93 12.71L42.05 13.18L42.15 13.67L42.23 14.17L42.30 14.68L42.36 15.18L42.42 15.68L42.48 16.17L42.53 16.67L42.57 17.17L42.62 17.66L42.66 18.16L42.70 18.66L42.74 19.16L42.78 19.66L42.81 20.16L42.85 20.66L42.88 21.16L42.92 21.66L42.95 22.16L42.99 22.65L43.03 23.15L43.07 23.65L43.11 24.15L43.16 24.65L43.20 25.15L43.25 25.64L43.29 26.14L43.33 26.64L43.38 27.14L43.43 27.64L43.47 28.13L43.52 28.63L43.56 29.13L43.61 29.63L43.66 30.13L43.70 30.62L43.75 31.12L43.80 31.62L43.84 32.12L43.89 32.61L43.94 33.11L43.99 33.61L44.03 34.11L44.08 34.61L44.13 35.10L44.18 35.60L44.22 36.10L44.27 36.60L44.32 37.09L44.37 37.59L44.41 38.09L44.46 38.59L44.51 39.09L44.55 39.58L44.60 40.08L44.65 40.58L44.69 41.08L44.74 41.58L44.78 42.08L44.82 42.57L44.87 43.07L44.91 43.57L44.96 44.07L45.01 44.57L45.06 45.06L45.11 45.56L45.16 46.06L45.21 46.56L45.27 47.05L45.33 47.55L45.39 48.04L45.45 48.54L45.52 49.03L45.59 49.53L45.66 50.02L45.73 50.52L45.80 51.01L45.88 51.51L45.95 52.00L46.03 52.49L46.10 52.99L46.18 53.48L46.33 54.47L46.48 55.46L46.63 56.45L46.77 57.44L46.90 58.43L47.04 59.42L47.17 60.41L47.30 61.40L47.42 62.39L47.55 63.39L47.67 64.38L47.80 65.37L47.92 66.36L48.04 67.35L48.16 68.35L48.28 69.34L48.40 70.33L48.52 71.33L48.63 72.32L48.75 73.31L48.87 74.31L48.99 75.30L49.11 76.29L49.23 77.28L49.34 78.28L49.46 79.27L49.58 80.26L49.70 81.26L49.82 82.25L49.95 83.24L50.07 84.23L50.19 85.23L50.32 86.22L50.44 87.21L50.57 88.20L50.69 89.19L50.82 90.19L50.95 91.18L51.08 92.17L51.21 93.16L51.34 94.15L51.47 95.14L51.60 96.13L51.74 97.12L51.88 98.12L52.02 99.11L52.16 100.10L52.30 101.09L52.44 102.08L52.59 103.06L52.74 104.05L52.89 105.04L53.04 106.03L53.19 107.02L53.35 108.01L53.51 108.99L53.67 109.98L53.84 110.97L54.00 111.95L54.17 112.94L54.34 113.92L54.52 114.91L54.70 115.89L54.88 116.87L55.07 117.86L55.26 118.84L55.45 119.82L55.65 120.80L55.85 121.78L56.06 122.76L56.27 123.73L56.49 124.71L56.71 125.68L56.94 126.66L57.18 127.63L57.42 128.60L57.66 129.57L57.92 130.53L58.18 131.50L58.45 132.46L58.73 133.42L59.02 134.38L59.32 135.33L59.62 136.28L59.94 137.23L60.27 138.17L60.62 139.11L60.97 140.05L61.34 140.97L61.73 141.90L62.13 142.81L62.55 143.72L62.98 144.61L63.44 145.50L63.91 146.38L64.41 147.24L64.94 148.09L65.48 148.92L66.05 149.74L66.65 150.53L67.28 151.30L67.93 152.05L68.61 152.77L69.32 153.47L70.06 154.13L70.83 154.76L71.62 155.36L72.43 155.92L73.27 156.45L74.13 156.95L75.01 157.41L75.91 157.84L76.82 158.24L77.74 158.61L78.68 158.95L79.63 159.26L80.58 159.54L81.54 159.80L82.51 160.04L83.49 160.26L84.46 160.47L85.45 160.65L86.43 160.82L87.42 160.98L88.40 161.13L89.40 161.26L90.39 161.39L91.38 161.51L92.37 161.61L93.37 161.72L94.36 161.81L95.36 161.90L96.36 161.98L97.35 162.06L98.35 162.14L99.35 162.21L100.34 162.27L101.34 162.33L102.34 162.39L103.34 162.45L104.34 162.50L105.34 162.56L106.34 162.60L107.33 162.65L108.33 162.70L109.33 162.74L110.33 162.78L111.33 162.82L112.33 162.86L113.33 162.90L114.33 162.93L115.33 162.97L116.33 163.00L117.33 163.03L118.33 163.07L119.33 163.10L120.32 163.13L121.32 163.15L122.32 163.18L123.32 163.21L124.32 163.23L125.32 163.26L126.32 163.28L127.32 163.31L128.32 163.33L129.32 163.35L130.32 163.38L131.32 163.40L132.32 163.42L133.32 163.44L134.32 163.46L135.32 163.48L136.32 163.50L137.32 163.52L138.32 163.54L139.32 163.55L140.32 163.57L141.32 163.59L142.32 163.60L143.32 163.62L144.32 163.64L145.32 163.65L146.32 163.67L147.32 163.68L148.32 163.70L149.32 163.71L150.32 163.73L151.32 163.74L152.32 163.75L153.32 163.77L154.32 163.78L155.32 163.79L156.32 163.80L157.32 163.82L158.32 163.83L159.32 163.84L160.32 163.85L161.32 163.86L162.32 163.87L163.32 163.88L164.32 163.89L165.32 163.90L166.32 163.91L167.32 163.92L168.32 163.93L169.32 163.94L170.32 163.95L171.32 163.96L172.32 163.97L173.32 163.98L174.32 163.99L175.32 164.00L176.32 164.01L177.32 164.02L178.32 164.02L179.32 164.03L180.32 164.04L181.32 164.05L182.32 164.06L183.32 164.06L184.32 164.07L185.32 164.08L186.32 164.09L187.32 164.09L188.32 164.10L189.32 164.11L190.32 164.11L191.32 164.12L192.32 164.13L193.32 164.13L194.32 164.14L195.32 164.15L196.32 164.15L197.32 164.16L198.32 164.17L199.32 164.17L200.32 164.18L201.32 164.18L202.32 164.19L203.32 164.19L204.32 164.20L205.32 164.21L206.32 164.21L207.32 164.22L208.32 164.22L209.32 164.23L210.32 164.23L211.32 164.24L212.32 164.24L213.32 164.25L214.32 164.25L215.32 164.26L216.32 164.26L217.32 164.27L218.32 164.27L219.32 164.28L220.32 164.28L221.32 164.29L222.32 164.29L223.32 164.29L224.32 164.30L225.32 164.30L226.32 164.31L227.32 164.31L228.32 164.32L229.32 164.32L230.31 164.32L231.31 164.33L232.31 164.33L233.31 164.34L234.31 164.34L235.31 164.34L236.31 164.35L237.31 164.35L238.31 164.35L239.31 164.36L240.31 164.36L241.31 164.36L242.31 164.37L243.31 164.37L244.31 164.37L245.31 164.38L246.31 164.38L247.31 164.38L248.31 164.39L249.31 164.39L250.31 164.39L251.31 164.40L252.31 164.40L253.31 164.40L254.31 164.41L255.31 164.41L256.31 164.41L257.31 164.42L258.31 164.42L259.31 164.42L260.31 164.42L261.31 164.43L262.31 164.43L263.31 164.43L264.31 164.43L265.31 164.44L266.31 164.44L267.31 164.44L268.31 164.45L269.31 164.45L270.31 164.45L271.31 164.45L272.31 164.46L273.31 164.46L274.31 164.46L275.31 164.46L276.31 164.47L277.31 164.47L278.31 164.47L279.31 164.47L280.31 164.48L281.31 164.48L282.31 164.48L283.31 164.48L284.31 164.48L285.31 164.49L286.31 164.49L287.31 164.49L288.31 164.49L289.31 164.50L290.31 164.50L291.31 164.50L292.31 164.50L293.31 164.50L294.31 164.51L295.31 164.51L296.31 164.51L297.31 164.51L298.31 164.51L299.31 164.52L300.31 164.52L301.31 164.52L302.31 164.52L303.31 164.52L304.31 164.52L305.31 164.53L306.31 164.53L307.31 164.53L308.31 164.53L309.31 164.53L310.31 164.54L311.31 164.54L312.31 164.54L313.31 164.54L314.30 164.54L315.28 164.54L316.26 164.55L317.21 164.55L318.16 164.55L319.08 164.55L320.00 164.55" stroke="#FF9AC9"/>
<path d="M37.60 161.50L37.60 161.00L37.60 160.50L37.61 160.00L37.61 159.50L37.61 159.00L37.61 158.50L37.62 158.00L37.62 157.50L37.62 157.00L37.62 156.50L37.63 156.00L37.63 155.50L37.63 155.00L37.63 154.50L37.64 154.00L37.64 153.50L37.64 153.00L37.64 152.50L37.65 152.00L37.65 151.50L37.65 151.00L37.65 150.50L37.65 150.00L37.66 149.50L37.66 149.00L37.66 148.50L37.66 148.00L37.67 147.50L37.67 147.00L37.67 146.50L37.67 146.00L37.68 145.50L37.68 145.00L37.68 144.50L37.68 144.00L37.69 143.50L37.69 143.00L37.69 142.50L37.69 142.00L37.70 141.50L37.70 141.00L37.70 140.50L37.70 140.00L37.71 139.50L37.71 139.00L37.71 138.50L37.71 138.00L37.71 137.50L37.72 137.00L37.72 136.50L37.72 136.00L37.72 135.50L37.73 135.00L37.73 134.50L37.73 134.00L37.73 133.50L37.74 133.00L37.74 132.50L37.74 132.00L37.74 131.50L37.75 131.00L37.75 130.50L37.75 130.00L37.75 129.50L37.76 129.00L37.76 128.50L37.76 128.00L37.76 127.50L37.77 127.00L37.77 126.50L37.77 126.00L37.77 125.50L37.78 125.00L37.78 124.50L37.78 124.00L37.78 123.50L37.79 123.00L37.79 122.50L37.79 122.00L37.79 121.50L37.80 121.00L37.80 120.50L37.80 120.00L37.80 119.50L37.80 119.00L37.81 118.50L37.81 118.00L37.81 117.50L37.81 117.00L37.82 116.50L37.82 116.00L37.82 115.50L37.82 115.00L37.83 114.50L37.83 114.00L37.83 113.50L37.83 113.00L37.84 112.50L37.84 112.00L37.84 111.50L37.84 111.00L37.84 110.50L37.85 110.00L37.85 109.50L37.85 109.00L37.85 108.50L37.86 108.00L37.86 107.50L37.86 107.00L37.86 106.50L37.87 106.00L37.87 105.50L37.87 105.00L37.87 104.50L37.87 104.00L37.88 103.50L37.88 103.00L37.88 102.50L37.88 102.00L37.89 101.50L37.89 101.00L37.89 100.50L37.89 100.00L37.90 99.50L37.90 99.00L37.90 98.50L37.90 98.00L37.90 97.50L37.91 97.00L37.91 96.50L37.91 96.00L37.91 95.50L37.92 95.00L37.92 94.50L37.92 94.00L37.92 93.50L37.93 93.00L37.93 92.50L37.93 92.00L37.93 91.50L37.94 91.00L37.94 90.50L37.94 90.00L37.94 89.50L37.95 89.00L37.95 88.50L37.95 88.00L37.96 87.50L37.96 87.00L37.96 86.50L37.96 86.00L37.97 85.50L37.97 85.00L37.97 84.50L37.98 84.00L37.98 83.50L37.98 83.00L37.98 82.50L37.99 82.00L37.99 81.50L37.99 81.00L38.00 80.50L38.00 80.00L38.00 79.50L38.01 79.00L38.01 78.50L38.01 78.00L38.02 77.50L38.02 77.00L38.02 76.50L38.02 76.00L38.03 75.50L38.03 75.00L38.03 74.50L38.04 74.00L38.04 73.50L38.04 73.00L38.05 72.50L38.05 72.00L38.05 71.50L38.06 71.00L38.06 70.50L38.06 70.00L38.06 69.50L38.07 69.00L38.07 68.50L38.07 68.00L38.08 67.50L38.08 67.00L38.08 66.50L38.09 66.00L38.09 65.50L38.09 65.00L38.10 64.50L38.10 64.00L38.11 63.50L38.11 63.00L38.11 62.50L38.12 62.00L38.12 61.50L38.12 61.00L38.13 60.50L38.13 60.00L38.14 59.50L38.14 59.00L38.15 58.50L38.15 58.00L38.15 57.50L38.16 57.00L38.16 56.50L38.17 56.00L38.17 55.50L38.18 55.00L38.18 54.50L38.19 54.00L38.19 53.50L38.20 53.00L38.20 52.50L38.21 52.00L38.22 51.50L38.22 51.00L38.23 50.50L38.23 50.00L38.24 49.50L38.25 49.00L38.25 48.50L38.26 48.00L38.26 47.50L38.27 47.00L38.28 46.50L38.29 46.00L38.29 45.50L38.30 45.00L38.31 44.50L38.32 44.00L38.33 43.50L38.34 43.00L38.35 42.50L38.36 42.00L38.37 41.50L38.38 41.00L38.40 40.50L38.41 40.00L38.43 39.50L38.44 39.00L38.46 38.50L38.47 38.00L38.49 37.50L38.51 37.00L38.53 36.50L38.54 36.00L38.56 35.51L38.58 35.01L38.60 34.51L38.62 34.01L38.64 33.51L38.67 33.01L38.69 32.51L38.71 32.01L38.73 31.51L38.76 31.01L38.78 30.51L38.80 30.01L38.83 29.51L38.85 29.01L38.87 28.51L38.90 28.01L38.92 27.51L38.95 27.01L38.97 26.51L39.00 26.02L39.03 25.52L39.05 25.02L39.08 24.52L39.11 24.02L39.14 23.52L39.17 23.02L39.20 22.52L39.23 22.02L39.26 21.52L39.30 21.02L39.33 20.52L39.37 20.02L39.40 19.52L39.44 19.02L39.48 18.53L39.52 18.03L39.56 17.53L39.60 17.03L39.65 16.53L39.69 16.03L39.74 15.54L39.79 15.04L39.83 14.54L39.88 14.04L39.94 13.55L39.99 13.05L40.04 12.56L40.10 12.06L40.16 11.56L40.23 11.06L40.30 10.56L40.39 10.07L40.48 9.58L40.61 9.09L40.79 8.49L41.01 7.94L41.24 7.62L41.45 7.71L41.68 8.14L41.89 8.73L42.05 9.29L42.15 9.77L42.24 10.26L42.32 10.75L42.38 11.25L42.45 11.75L42.51 12.25L42.59 12.75L42.66 13.24L42.73 13.74L42.80 14.23L42.86 14.73L42.93 15.22L43.00 15.72L43.06 16.21L43.13 16.71L43.19 17.21L43.26 17.70L43.33 18.20L43.39 18.69L43.46 19.19L43.53 19.68L43.60 20.18L43.66 20.68L43.73 21.17L43.80 21.67L43.86 22.16L43.93 22.66L43.99 23.15L44.05 23.65L44.10 24.15L44.16 24.64L44.21 25.14L44.26 25.64L44.30 26.14L44.35 26.63L44.40 27.13L44.44 27.63L44.48 28.13L44.53 28.63L44.57 29.12L44.61 29.62L44.65 30.12L44.69 30.62L44.73 31.12L44.77 31.62L44.80 32.11L44.84 32.61L44.88 33.11L44.92 33.61L44.95 34.11L44.99 34.61L45.03 35.11L45.07 35.61L45.10 36.10L45.14 36.60L45.18 37.10L45.22 37.60L45.26 38.10L45.29 38.60L45.33 39.10L45.37 39.59L45.41 40.09L45.45 40.59L45.49 41.09L45.53 41.59L45.57 42.09L45.62 42.58L45.66 43.08L45.70 43.58L45.74 44.08L45.78 44.58L45.82 45.08L45.86 45.57L45.91 46.07L45.95 46.57L45.99 47.07L46.03 47.57L46.08 48.07L46.16 49.06L46.25 50.06L46.34 51.05L46.43 52.05L46.52 53.05L46.61 54.04L46.71 55.04L46.80 56.03L46.89 57.03L46.98 58.02L47.07 59.02L47.17 60.02L47.26 61.01L47.35 62.01L47.44 63.00L47.54 64.00L47.63 64.99L47.72 65.99L47.81 66.99L47.91 67.98L48.00 68.98L48.09 69.97L48.19 70.97L48.28 71.96L48.38 72.96L48.47 73.95L48.57 74.95L48.66 75.95L48.76 76.94L48.86 77.94L48.95 78.93L49.05 79.93L49.15 80.92L49.25 81.92L49.35 82.91L49.45 83.91L49.55 84.90L49.65 85.90L49.75 86.89L49.85 87.89L49.96 88.88L50.06 89.88L50.17 90.87L50.27 91.86L50.38 92.86L50.49 93.85L50.60 94.85L50.71 95.84L50.82 96.83L50.93 97.83L51.04 98.82L51.16 99.81L51.27 100.81L51.39 101.80L51.51 102.79L51.63 103.79L51.75 104.78L51.87 105.77L51.99 106.76L52.12 107.76L52.25 108.75L52.38 109.74L52.51 110.73L52.64 111.72L52.77 112.71L52.91 113.70L53.05 114.69L53.19 115.68L53.33 116.67L53.48 117.66L53.63 118.65L53.78 119.64L53.93 120.63L54.08 121.62L54.24 122.60L54.40 123.59L54.57 124.58L54.74 125.56L54.91 126.55L55.09 127.53L55.27 128.52L55.45 129.50L55.64 130.48L55.83 131.46L56.03 132.44L56.23 133.42L56.44 134.40L56.65 135.38L56.87 136.35L57.10 137.32L57.33 138.30L57.57 139.27L57.82 140.24L58.08 141.20L58.35 142.16L58.63 143.12L58.91 144.08L59.21 145.03L59.53 145.98L59.85 146.93L60.19 147.87L60.55 148.80L60.92 149.73L61.31 150.64L61.73 151.55L62.16 152.45L62.63 153.33L63.11 154.19L63.63 155.04L64.18 155.87L64.76 156.67L65.38 157.45L66.03 158.19L66.72 158.89L67.45 159.56L68.21 160.18L69.01 160.76L69.84 161.29L70.70 161.77L71.59 162.20L72.50 162.59L73.43 162.93L74.37 163.22L75.33 163.48L76.30 163.70L77.28 163.89L78.26 164.05L79.25 164.19L80.24 164.31L81.23 164.40L82.23 164.49L83.22 164.55L84.22 164.61L85.22 164.66L86.22 164.70L87.22 164.73L88.22 164.76L89.22 164.79L90.22 164.80L91.22 164.82L92.22 164.83L93.22 164.85L94.22 164.85L95.22 164.86L96.22 164.87L97.22 164.87L98.22 164.88L99.22 164.88L100.22 164.88L101.22 164.89L102.22 164.89L103.22 164.89L104.22 164.89L105.22 164.89L106.22 164.90L107.22 164.90L108.22 164.90L109.22 164.90L110.22 164.90L111.22 164.90L112.22 164.90L113.22 164.90L114.22 164.90L115.22 164.90L116.22 164.90L117.22 164.90L118.22 164.90L119.22 164.90L120.22 164.90L121.22 164.90L122.22 164.90L123.22 164.90L124.22 164.90L125.22 164.90L126.22 164.90L127.22 164.90L128.22 164.90L129.22 164.90L130.22 164.90L131.22 164.90L132.22 164.90L133.22 164.90L134.22 164.90L135.22 164.90L136.22 164.90L137.22 164.90L138.22 164.90L139.22 164.90L140.22 164.90L141.22 164.90L142.22 164.90L143.22 164.90L144.22 164.90L145.22 164.90L146.22 164.90L147.22 164.90L148.22 164.90L149.22 164.90L150.22 164.90L151.22 164.90L152.22 164.90L153.22 164.90L154.22 164.90L155.22 164.90L156.22 164.90L157.22 164.90L158.22 164.90L159.22 164.90L160.22 164.90L161.22 164.90L162.22 164.90L163.22 164.90L164.22 164.90L165.22 164.90L166.22 164.90L167.22 164.90L168.22 164.90L169.22 164.90L170.22 164.90L171.22 164.90L172.22 164.90L173.22 164.90L174.22 164.90L175.22 164.90L176.22 164.90L177.22 164.90L178.22 164.90L179.22 164.90L180.22 164.90L181.22 164.90L182.22 164.90L183.22 164.90L184.22 164.90L185.22 164.90L186.22 164.90L187.22 164.90L188.22 164.90L189.22 164.90L190.22 164.90L191.22 164.90L192.22 164.90L193.22 164.90L194.22 164.90L195.22 164.90L196.22 164.90L197.22 164.90L198.22 164.90L199.22 164.90L200.22 164.90L201.22 164.90L202.22 164.90L203.22 164.90L204.22 164.90L205.22 164.90L206.22 164.90L207.22 164.90L208.22 164.90L209.22 164.90L210.22 164.90L211.22 164.90L212.22 164.90L213.22 164.90L214.22 164.90L215.22 164.90L216.22 164.90L217.22 164.90L218.22 164.90L219.22 164.90L220.22 164.90L221.22 164.90L222.22 164.90L223.22 164.90L224.22 164.90L225.22 164.90L226.22 164.90L227.22 164.90L228.22 164.90L229.22 164.90L230.22 164.90L231.22 164.90L232.22 164.90L233.22 164.90L234.22 164.90L235.22 164.90L236.22 164.90L237.22 164.90L238.22 164.90L239.22 164.90L240.22 164.90L241.22 164.90L242.22 164.90L243.22 164.90L244.22 164.90L245.22 164.90L246.22 164.90L247.22 164.90L248.22 164.90L249.22 164.90L250.22 164.90L251.22 164.90L252.22 164.90L253.22 164.90L254.22 164.90L255.22 164.90L256.22 164.90L257.22 164.90L258.22 164.90L259.22 164.90L260.22 164.90L261.22 164.90L262.22 164.90L263.22 164.90L264.22 164.90L265.22 164.90L266.22 164.90L267.22 164.90L268.22 164.90L269.22 164.90L270.22 164.90L271.22 164.90L272.22 164.90L273.22 164.90L274.22 164.90L275.22 164.90L276.22 164.90L277.22 164.90L278.22 164.90L279.22 164.90L280.22 164.90L281.22 164.90L282.22 164.90L283.22 164.90L284.22 164.90L285.22 164.90L286.22 164.90L287.22 164.90L288.22 164.90L289.22 164.90L290.22 164.90L291.22 164.90L292.22 164.90L293.22 164.90L294.22 164.90L295.22 164.90L296.22 164.90L297.22 164.90L298.22 164.90L299.22 164.90L300.22 164.90L301.22 164.90L302.22 164.90L303.22 164.90L304.22 164.90L305.22 164.90L306.22 164.90L307.22 164.90L308.22 164.90L309.22 164.90L310.22 164.90L311.22 164.90L312.21 164.90L313.21 164.90L314.21 164.90L315.20 164.90L316.18 164.90L317.15 164.90L318.11 164.90L319.06 164.90L320.00 164.90" stroke="#A51C3E"/>
</g>
<path d="M65.69 197.1v-2.8M65.69 2.9v2.8M93.88 197.1v-2.8M93.88 2.9v2.8M122.07 197.1v-2.8M122.07 2.9v2.8M150.26 197.1v-2.8M150.26 2.9v2.8M178.45 197.1v-2.8M178.45 2.9v2.8M206.64 197.1v-2.8M206.64 2.9v2.8M234.83 197.1v-2.8M234.83 2.9v2.8M263.02 197.1v-2.8M263.02 2.9v2.8M291.21 197.1v-2.8M291.21 2.9v2.8M37.5 164.73h2.8M319.4 164.73h-2.8M37.5 132.37h2.8M319.4 132.37h-2.8M37.5 100.00h2.8M319.4 100.00h-2.8M37.5 67.63h2.8M319.4 67.63h-2.8M37.5 35.27h2.8M319.4 35.27h-2.8" stroke="#777777" stroke-width="0.8" fill="none"/>
<rect x="37.5" y="2.9" width="281.90" height="194.20" fill="none" stroke="#777777" stroke-width="0.95"/>
<g font-family='"Liberation Sans", Arial, Helvetica, sans-serif' font-size="7.8" fill="#1a1a1a" stroke="#1a1a1a" stroke-width="0.22">
<text x="37.50" y="206.60" text-anchor="middle">0</text>
<text x="65.69" y="206.60" text-anchor="middle">5</text>
<text x="93.88" y="206.60" text-anchor="middle">10</text>
<text x="122.07" y="206.60" text-anchor="middle">15</text>
<text x="150.26" y="206.60" text-anchor="middle">20</text>
<text x="178.45" y="206.60" text-anchor="middle">25</text>
<text x="206.64" y="206.60" text-anchor="middle">30</text>
<text x="234.83" y="206.60" text-anchor="middle">35</text>
<text x="263.02" y="206.60" text-anchor="middle">40</text>
<text x="291.21" y="206.60" text-anchor="middle">45</text>
<text x="319.40" y="206.60" text-anchor="middle">50</text>
<text x="35.30" y="199.90" text-anchor="end">-2000</text>
<text x="35.30" y="167.53" text-anchor="end">0</text>
<text x="35.30" y="135.17" text-anchor="end">2000</text>
<text x="35.30" y="102.80" text-anchor="end">4000</text>
<text x="35.30" y="70.43" text-anchor="end">6000</text>
<text x="35.30" y="38.07" text-anchor="end">8000</text>
<text x="35.30" y="5.70" text-anchor="end">10000</text>
</g>
<g font-family='"Liberation Sans", Arial, Helvetica, sans-serif' font-weight="bold" font-size="10.65" fill="#1a1a1a" stroke="#1a1a1a" stroke-width="0.2" text-anchor="middle">
<text x="178.45" y="218.10">Time(Years)</text>
<text transform="translate(8.70 100.60) rotate(-90)">HIV treated individuals</text>
</g>
<text x="179.25" y="241.60" letter-spacing="0.25" text-anchor="middle" font-family='"Liberation Serif", "Times New Roman", serif' font-size="13.9" fill="#1a1a1a" stroke="#1a1a1a" stroke-width="0.12">(g)</text>
<rect x="243.7" y="5.85" width="62.87" height="58.43" fill="#fff" stroke="#8c8c8c" stroke-width="1.0"/>
<path d="M248.3 12.75H271.7" stroke="#D9821E" stroke-width="1.7" fill="none"/>
<text x="273.7" y="16.00" font-family='"Liberation Sans", Arial, Helvetica, sans-serif' font-size="7.7" fill="#1a1a1a"><tspan font-family='"Liberation Serif", "Times New Roman", serif' font-size="8.6">α</tspan><tspan dx="0.5" font-weight="bold" stroke="#1a1a1a" stroke-width="0.2"> = 0.80</tspan></text>
<path d="M248.3 23.85H271.7" stroke="#FDD420" stroke-width="1.7" fill="none"/>
<text x="273.7" y="27.10" font-family='"Liberation Sans", Arial, Helvetica, sans-serif' font-size="7.7" fill="#1a1a1a"><tspan font-family='"Liberation Serif", "Times New Roman", serif' font-size="8.6">α</tspan><tspan dx="0.5" font-weight="bold" stroke="#1a1a1a" stroke-width="0.2"> = 0.85</tspan></text>
<path d="M248.3 35.05H271.7" stroke="#1CBEC0" stroke-width="1.7" fill="none"/>
<text x="273.7" y="38.30" font-family='"Liberation Sans", Arial, Helvetica, sans-serif' font-size="7.7" fill="#1a1a1a"><tspan font-family='"Liberation Serif", "Times New Roman", serif' font-size="8.6">α</tspan><tspan dx="0.5" font-weight="bold" stroke="#1a1a1a" stroke-width="0.2"> = 0.90</tspan></text>
<path d="M248.3 46.2H271.7" stroke="#FF9AC9" stroke-width="1.7" fill="none"/>
<text x="273.7" y="49.45" font-family='"Liberation Sans", Arial, Helvetica, sans-serif' font-size="7.7" fill="#1a1a1a"><tspan font-family='"Liberation Serif", "Times New Roman", serif' font-size="8.6">α</tspan><tspan dx="0.5" font-weight="bold" stroke="#1a1a1a" stroke-width="0.2"> = 0.95</tspan></text>
<path d="M248.3 57.4H271.7" stroke="#A51C3E" stroke-width="1.7" fill="none"/>
<text x="273.7" y="60.65" font-family='"Liberation Sans", Arial, Helvetica, sans-serif' font-size="7.7" fill="#1a1a1a"><tspan font-family='"Liberation Serif", "Times New Roman", serif' font-size="8.6">α</tspan><tspan dx="0.5" font-weight="bold" stroke="#1a1a1a" stroke-width="0.2"> = 1.00</tspan></text>
</g>
<g id="plot-h">
<rect x="399.4" y="3.45" width="281.40" height="193.85" fill="#fff"/>
<path d="M427.54 3.45V197.3M455.68 3.45V197.3M483.82 3.45V197.3M511.96 3.45V197.3M540.10 3.45V197.3M568.24 3.45V197.3M596.38 3.45V197.3M624.52 3.45V197.3M652.66 3.45V197.3M399.4 173.07H680.8M399.4 148.84H680.8M399.4 124.61H680.8M399.4 100.38H680.8M399.4 76.14H680.8M399.4 51.91H680.8M399.4 27.68H680.8" stroke="#e2e2e2" stroke-width="0.55" fill="none"/>
<clipPath id="clip-h"><rect x="399.09999999999997" y="3.45" width="282.00" height="193.85"/></clipPath>
<g clip-path="url(#clip-h)" fill="none" stroke-width="1.7" stroke-linejoin="round" stroke-linecap="butt">
<path d="M399.60 163.20L399.60 162.70L399.60 162.20L399.60 161.70L399.60 161.20L399.60 160.70L399.60 160.20L399.60 159.70L399.60 159.20L399.60 158.70L399.60 158.20L399.60 157.70L399.60 157.20L399.60 156.70L399.60 156.20L399.60 155.70L399.60 155.20L399.60 154.70L399.60 154.20L399.60 153.70L399.60 153.20L399.60 152.70L399.60 152.20L399.60 151.70L399.60 151.20L399.60 150.70L399.60 150.20L399.60 149.70L399.60 149.20L399.60 148.70L399.60 148.20L399.60 147.70L399.60 147.20L399.60 146.70L399.60 146.20L399.60 145.70L399.60 145.20L399.60 144.70L399.60 144.20L399.60 143.70L399.60 143.20L399.60 142.70L399.60 142.20L399.60 141.70L399.60 141.20L399.60 140.70L399.60 140.20L399.60 139.70L399.60 139.20L399.60 138.70L399.60 138.20L399.60 137.70L399.60 137.20L399.60 136.70L399.60 136.20L399.60 135.70L399.60 135.20L399.60 134.70L399.60 134.20L399.60 133.70L399.60 133.20L399.60 132.70L399.60 132.20L399.60 131.70L399.60 131.20L399.60 130.70L399.60 130.20L399.60 129.70L399.60 129.20L399.60 128.70L399.60 128.20L399.60 127.70L399.60 127.20L399.60 126.70L399.60 126.20L399.60 125.70L399.60 125.20L399.60 124.70L399.60 124.20L399.60 123.70L399.60 123.20L399.60 122.70L399.60 122.20L399.60 121.70L399.60 121.20L399.60 120.70L399.60 120.20L399.60 119.70L399.60 119.20L399.60 118.70L399.60 118.20L399.60 117.70L399.60 117.20L399.60 116.70L399.60 116.20L399.60 115.70L399.60 115.20L399.60 114.70L399.60 114.20L399.60 113.70L399.60 113.20L399.60 112.70L399.60 112.20L399.60 111.70L399.60 111.20L399.61 110.70L399.61 110.20L399.61 109.70L399.61 109.20L399.61 108.70L399.61 108.20L399.61 107.70L399.61 107.20L399.61 106.70L399.61 106.20L399.61 105.70L399.61 105.20L399.61 104.70L399.61 104.20L399.61 103.70L399.62 103.20L399.62 102.70L399.62 102.20L399.62 101.70L399.62 101.20L399.62 100.70L399.62 100.20L399.62 99.70L399.62 99.20L399.62 98.70L399.62 98.20L399.63 97.70L399.63 97.20L399.63 96.70L399.63 96.20L399.63 95.70L399.63 95.20L399.63 94.70L399.63 94.20L399.63 93.70L399.63 93.20L399.63 92.70L399.64 92.20L399.64 91.70L399.64 91.20L399.64 90.70L399.64 90.20L399.64 89.70L399.64 89.20L399.64 88.70L399.64 88.20L399.64 87.70L399.65 87.20L399.65 86.70L399.65 86.20L399.65 85.70L399.65 85.20L399.65 84.70L399.65 84.20L399.65 83.70L399.65 83.20L399.65 82.70L399.66 82.20L399.66 81.70L399.66 81.20L399.66 80.70L399.66 80.20L399.66 79.70L399.66 79.20L399.66 78.70L399.66 78.20L399.66 77.70L399.66 77.20L399.66 76.70L399.67 76.20L399.67 75.70L399.67 75.20L399.67 74.70L399.67 74.20L399.67 73.70L399.67 73.20L399.67 72.70L399.67 72.20L399.67 71.70L399.67 71.20L399.68 70.70L399.68 70.20L399.68 69.70L399.68 69.20L399.68 68.70L399.68 68.20L399.68 67.70L399.68 67.20L399.68 66.70L399.69 66.20L399.69 65.70L399.69 65.20L399.69 64.70L399.69 64.20L399.69 63.70L399.69 63.20L399.70 62.70L399.70 62.20L399.70 61.70L399.70 61.20L399.70 60.70L399.70 60.20L399.71 59.70L399.71 59.20L399.71 58.70L399.71 58.20L399.71 57.70L399.72 57.20L399.72 56.70L399.72 56.20L399.72 55.70L399.72 55.20L399.73 54.70L399.73 54.20L399.73 53.70L399.73 53.20L399.74 52.70L399.74 52.20L399.74 51.70L399.74 51.20L399.75 50.70L399.75 50.20L399.75 49.70L399.76 49.20L399.76 48.70L399.76 48.20L399.77 47.70L399.78 47.20L399.78 46.70L399.79 46.20L399.80 45.70L399.81 45.20L399.82 44.70L399.83 44.20L399.84 43.70L399.85 43.19L399.86 42.69L399.88 42.19L399.89 41.69L399.91 41.19L399.92 40.69L399.94 40.19L399.95 39.69L399.97 39.20L399.99 38.70L400.01 38.20L400.03 37.70L400.05 37.20L400.07 36.70L400.09 36.20L400.11 35.71L400.14 35.21L400.18 34.71L400.22 34.21L400.27 33.71L400.33 33.21L400.39 32.71L400.45 32.21L400.52 31.71L400.60 31.21L400.68 30.72L400.77 30.23L400.86 29.74L400.95 29.25L401.05 28.77L401.17 28.28L401.32 27.79L401.49 27.31L401.68 26.85L401.89 26.41L402.19 25.90L402.52 25.48L402.82 25.45L403.11 25.86L403.36 26.41L403.56 26.86L403.73 27.33L403.89 27.81L404.03 28.30L404.15 28.78L404.26 29.27L404.35 29.76L404.44 30.25L404.51 30.74L404.58 31.24L404.65 31.73L404.72 32.23L404.78 32.73L404.85 33.23L404.91 33.72L404.98 34.22L405.05 34.71L405.13 35.21L405.22 35.70L405.31 36.19L405.40 36.68L405.50 37.18L405.59 37.67L405.68 38.16L405.77 38.65L405.86 39.14L405.94 39.64L406.01 40.13L406.09 40.62L406.16 41.12L406.23 41.61L406.29 42.11L406.36 42.60L406.42 43.10L406.49 43.60L406.55 44.09L406.61 44.59L406.67 45.09L406.73 45.58L406.79 46.08L406.86 46.57L406.92 47.07L406.98 47.57L407.04 48.06L407.10 48.56L407.17 49.06L407.23 49.55L407.30 50.05L407.37 50.54L407.44 51.04L407.51 51.53L407.58 52.03L407.65 52.52L407.73 53.02L407.81 53.51L407.88 54.00L407.96 54.50L408.05 54.99L408.13 55.48L408.21 55.98L408.30 56.47L408.39 56.96L408.48 57.45L408.58 57.94L408.67 58.43L408.77 58.92L408.87 59.41L408.97 59.90L409.07 60.39L409.18 60.88L409.28 61.37L409.39 61.86L409.51 62.34L409.62 62.83L409.73 63.32L409.85 63.80L409.97 64.29L410.22 65.26L410.47 66.22L410.73 67.19L411.00 68.15L411.28 69.11L411.56 70.07L411.85 71.03L412.15 71.98L412.45 72.94L412.75 73.89L413.06 74.84L413.38 75.79L413.69 76.74L414.02 77.68L414.34 78.63L414.67 79.57L415.00 80.52L415.33 81.46L415.67 82.40L416.01 83.34L416.35 84.28L416.69 85.22L417.04 86.16L417.39 87.10L417.74 88.03L418.09 88.97L418.45 89.90L418.81 90.84L419.17 91.77L419.54 92.70L419.91 93.63L420.28 94.56L420.65 95.48L421.03 96.41L421.41 97.33L421.80 98.25L422.19 99.17L422.59 100.09L422.99 101.01L423.39 101.92L423.80 102.83L424.22 103.74L424.64 104.65L425.07 105.55L425.50 106.46L425.94 107.35L426.38 108.25L426.84 109.14L427.30 110.03L427.76 110.91L428.24 111.79L428.72 112.67L429.21 113.54L429.71 114.41L430.22 115.27L430.73 116.12L431.26 116.97L431.79 117.82L432.33 118.66L432.89 119.49L433.45 120.31L434.03 121.13L434.61 121.94L435.21 122.74L435.81 123.54L436.43 124.32L437.06 125.10L437.70 125.87L438.35 126.63L439.01 127.37L439.68 128.11L440.37 128.84L441.06 129.56L441.77 130.26L442.49 130.95L443.22 131.63L443.96 132.30L444.72 132.96L445.48 133.60L446.25 134.24L447.04 134.86L447.83 135.46L448.63 136.06L449.45 136.64L450.27 137.21L451.10 137.76L451.94 138.30L452.78 138.83L453.64 139.35L454.50 139.86L455.37 140.35L456.24 140.83L457.13 141.30L458.01 141.76L458.91 142.21L459.81 142.64L460.71 143.07L461.62 143.48L462.53 143.89L463.45 144.28L464.37 144.67L465.30 145.05L466.23 145.41L467.16 145.77L468.10 146.12L469.04 146.46L469.98 146.79L470.93 147.12L471.87 147.44L472.83 147.75L473.78 148.05L474.73 148.34L475.69 148.63L476.65 148.91L477.61 149.19L478.57 149.46L479.54 149.72L480.50 149.98L481.47 150.23L482.44 150.48L483.41 150.72L484.38 150.96L485.35 151.19L486.33 151.42L487.30 151.64L488.28 151.86L489.26 152.07L490.23 152.28L491.21 152.48L492.19 152.68L493.17 152.88L494.15 153.08L495.14 153.26L496.12 153.45L497.10 153.63L498.08 153.81L499.07 153.99L500.05 154.16L501.04 154.33L502.03 154.50L503.01 154.66L504.00 154.82L504.99 154.98L505.97 155.13L506.96 155.28L507.95 155.43L508.94 155.58L509.93 155.72L510.92 155.86L511.91 156.00L512.90 156.14L513.89 156.28L514.88 156.41L515.87 156.54L516.87 156.67L517.86 156.79L518.85 156.92L519.84 157.04L520.84 157.16L521.83 157.28L522.82 157.40L523.81 157.51L524.81 157.63L525.80 157.74L526.80 157.85L527.79 157.95L528.78 158.06L529.78 158.17L530.77 158.27L531.77 158.37L532.76 158.47L533.76 158.57L534.75 158.67L535.75 158.77L536.74 158.86L537.74 158.96L538.74 159.05L539.73 159.14L540.73 159.23L541.72 159.32L542.72 159.41L543.72 159.50L544.71 159.58L545.71 159.67L546.70 159.75L547.70 159.83L548.70 159.91L549.69 159.99L550.69 160.07L551.69 160.15L552.69 160.23L553.68 160.30L554.68 160.38L555.68 160.45L556.67 160.53L557.67 160.60L558.67 160.67L559.67 160.74L560.66 160.81L561.66 160.88L562.66 160.95L563.66 161.02L564.65 161.08L565.65 161.15L566.65 161.22L567.65 161.28L568.65 161.34L569.64 161.41L570.64 161.47L571.64 161.53L572.64 161.59L573.64 161.65L574.63 161.71L575.63 161.77L576.63 161.83L577.63 161.89L578.63 161.94L579.63 162.00L580.62 162.06L581.62 162.11L582.62 162.16L583.62 162.22L584.62 162.27L585.62 162.32L586.62 162.38L587.61 162.43L588.61 162.48L589.61 162.53L590.61 162.58L591.61 162.63L592.61 162.68L593.61 162.73L594.61 162.78L595.60 162.83L596.60 162.87L597.60 162.92L598.60 162.97L599.60 163.01L600.60 163.06L601.60 163.11L602.60 163.15L603.60 163.20L604.60 163.24L605.59 163.28L606.59 163.33L607.59 163.37L608.59 163.41L609.59 163.45L610.59 163.49L611.59 163.54L612.59 163.58L613.59 163.62L614.59 163.66L615.59 163.70L616.58 163.74L617.58 163.78L618.58 163.81L619.58 163.85L620.58 163.89L621.58 163.93L622.58 163.97L623.58 164.00L624.58 164.04L625.58 164.08L626.58 164.11L627.58 164.15L628.58 164.18L629.58 164.22L630.57 164.25L631.57 164.29L632.57 164.32L633.57 164.36L634.57 164.39L635.57 164.42L636.57 164.46L637.57 164.49L638.57 164.52L639.57 164.56L640.57 164.59L641.57 164.62L642.57 164.65L643.57 164.68L644.57 164.71L645.57 164.75L646.57 164.78L647.57 164.81L648.57 164.84L649.56 164.87L650.56 164.90L651.56 164.93L652.56 164.96L653.56 164.98L654.56 165.01L655.56 165.04L656.56 165.07L657.56 165.10L658.56 165.13L659.56 165.15L660.56 165.18L661.56 165.21L662.56 165.23L663.56 165.26L664.56 165.29L665.56 165.31L666.56 165.34L667.56 165.37L668.56 165.39L669.56 165.42L670.56 165.45L671.56 165.47L672.56 165.50L673.56 165.52L674.55 165.55L675.55 165.57L676.55 165.60L677.54 165.62L678.53 165.64L679.52 165.67L680.51 165.69L681.00 165.70" stroke="#D9821E"/>
<path d="M399.60 163.20L399.60 162.70L399.60 162.20L399.60 161.70L399.60 161.20L399.60 160.70L399.60 160.20L399.60 159.70L399.60 159.20L399.60 158.70L399.60 158.20L399.60 157.70L399.60 157.20L399.60 156.70L399.60 156.20L399.60 155.70L399.60 155.20L399.60 154.70L399.60 154.20L399.60 153.70L399.60 153.20L399.60 152.70L399.60 152.20L399.60 151.70L399.60 151.20L399.60 150.70L399.60 150.20L399.60 149.70L399.60 149.20L399.60 148.70L399.60 148.20L399.60 147.70L399.60 147.20L399.60 146.70L399.60 146.20L399.60 145.70L399.60 145.20L399.60 144.70L399.60 144.20L399.60 143.70L399.60 143.20L399.60 142.70L399.60 142.20L399.60 141.70L399.60 141.20L399.60 140.70L399.60 140.20L399.60 139.70L399.60 139.20L399.60 138.70L399.60 138.20L399.60 137.70L399.60 137.20L399.60 136.70L399.60 136.20L399.60 135.70L399.60 135.20L399.60 134.70L399.60 134.20L399.60 133.70L399.60 133.20L399.60 132.70L399.60 132.20L399.60 131.70L399.60 131.20L399.60 130.70L399.60 130.20L399.60 129.70L399.60 129.20L399.60 128.70L399.60 128.20L399.60 127.70L399.60 127.20L399.60 126.70L399.60 126.20L399.60 125.70L399.60 125.20L399.60 124.70L399.60 124.20L399.60 123.70L399.60 123.20L399.60 122.70L399.60 122.20L399.60 121.70L399.60 121.20L399.60 120.70L399.60 120.20L399.60 119.70L399.60 119.20L399.60 118.70L399.60 118.20L399.60 117.70L399.60 117.20L399.60 116.70L399.60 116.20L399.60 115.70L399.60 115.20L399.60 114.70L399.61 114.20L399.61 113.70L399.61 113.20L399.61 112.70L399.61 112.20L399.61 111.70L399.61 111.20L399.61 110.70L399.61 110.20L399.61 109.70L399.62 109.20L399.62 108.70L399.62 108.20L399.62 107.70L399.62 107.20L399.62 106.70L399.62 106.20L399.63 105.70L399.63 105.20L399.63 104.70L399.63 104.20L399.63 103.70L399.64 103.20L399.64 102.70L399.64 102.20L399.64 101.70L399.64 101.20L399.64 100.70L399.65 100.20L399.65 99.70L399.65 99.20L399.65 98.70L399.65 98.20L399.66 97.70L399.66 97.20L399.66 96.70L399.66 96.20L399.66 95.70L399.66 95.20L399.67 94.70L399.67 94.20L399.67 93.70L399.67 93.20L399.67 92.70L399.68 92.20L399.68 91.70L399.68 91.20L399.68 90.70L399.68 90.20L399.69 89.70L399.69 89.20L399.69 88.70L399.69 88.20L399.69 87.70L399.69 87.20L399.69 86.70L399.70 86.20L399.70 85.70L399.70 85.20L399.70 84.70L399.70 84.20L399.70 83.70L399.70 83.20L399.71 82.70L399.71 82.20L399.71 81.70L399.71 81.20L399.71 80.70L399.71 80.20L399.71 79.70L399.71 79.20L399.72 78.70L399.72 78.20L399.72 77.70L399.72 77.20L399.72 76.70L399.72 76.20L399.72 75.70L399.72 75.20L399.72 74.70L399.72 74.20L399.73 73.70L399.73 73.20L399.73 72.70L399.73 72.20L399.73 71.70L399.73 71.20L399.73 70.70L399.73 70.20L399.73 69.70L399.73 69.20L399.73 68.70L399.74 68.20L399.74 67.70L399.74 67.20L399.74 66.70L399.74 66.20L399.74 65.70L399.74 65.20L399.74 64.70L399.74 64.20L399.75 63.70L399.75 63.20L399.75 62.70L399.75 62.20L399.75 61.70L399.75 61.20L399.75 60.70L399.76 60.20L399.76 59.70L399.76 59.20L399.76 58.70L399.76 58.20L399.76 57.70L399.77 57.20L399.77 56.70L399.77 56.20L399.77 55.70L399.77 55.20L399.78 54.70L399.78 54.20L399.78 53.70L399.78 53.20L399.79 52.70L399.79 52.20L399.79 51.70L399.79 51.20L399.80 50.70L399.80 50.20L399.80 49.70L399.81 49.20L399.81 48.70L399.81 48.20L399.82 47.70L399.83 47.20L399.83 46.70L399.84 46.20L399.85 45.70L399.86 45.20L399.87 44.70L399.88 44.20L399.89 43.70L399.90 43.20L399.92 42.70L399.93 42.19L399.95 41.69L399.96 41.19L399.98 40.69L399.99 40.19L400.01 39.69L400.03 39.19L400.04 38.69L400.06 38.19L400.08 37.69L400.10 37.20L400.12 36.70L400.15 36.20L400.17 35.70L400.19 35.20L400.21 34.70L400.24 34.20L400.26 33.70L400.29 33.21L400.32 32.71L400.35 32.21L400.39 31.71L400.43 31.21L400.48 30.71L400.53 30.21L400.59 29.71L400.66 29.21L400.73 28.71L400.80 28.22L400.88 27.72L400.97 27.23L401.06 26.74L401.15 26.26L401.25 25.77L401.37 25.28L401.52 24.79L401.68 24.31L401.88 23.85L402.09 23.42L402.40 22.93L402.76 22.51L403.09 22.42L403.41 22.76L403.70 23.29L403.90 23.75L404.07 24.21L404.21 24.70L404.33 25.19L404.44 25.69L404.53 26.18L404.62 26.67L404.70 27.16L404.77 27.66L404.83 28.15L404.89 28.65L404.95 29.15L405.01 29.64L405.07 30.14L405.13 30.64L405.19 31.14L405.25 31.63L405.32 32.13L405.39 32.62L405.46 33.12L405.54 33.61L405.62 34.11L405.69 34.60L405.77 35.10L405.85 35.59L405.93 36.08L406.00 36.58L406.08 37.07L406.15 37.57L406.23 38.06L406.30 38.56L406.37 39.05L406.43 39.55L406.49 40.04L406.55 40.54L406.61 41.04L406.66 41.53L406.71 42.03L406.76 42.53L406.81 43.03L406.86 43.53L406.91 44.03L406.96 44.52L407.01 45.02L407.06 45.52L407.12 46.02L407.17 46.51L407.23 47.01L407.30 47.50L407.37 48.00L407.44 48.49L407.52 48.99L407.60 49.48L407.69 49.97L407.78 50.46L407.88 50.95L407.98 51.44L408.09 51.92L408.19 52.41L408.30 52.90L408.40 53.39L408.51 53.88L408.62 54.36L408.73 54.85L408.84 55.34L408.96 55.82L409.07 56.31L409.18 56.80L409.29 57.29L409.40 57.77L409.51 58.26L409.62 58.75L409.74 59.24L409.85 59.72L409.96 60.21L410.07 60.70L410.18 61.19L410.40 62.16L410.62 63.14L410.84 64.11L411.06 65.09L411.29 66.06L411.51 67.04L411.73 68.01L411.95 68.99L412.18 69.96L412.40 70.94L412.63 71.91L412.85 72.89L413.08 73.86L413.31 74.83L413.53 75.81L413.76 76.78L414.00 77.75L414.23 78.72L414.46 79.70L414.70 80.67L414.93 81.64L415.17 82.61L415.41 83.58L415.66 84.55L415.90 85.52L416.15 86.49L416.39 87.46L416.64 88.43L416.90 89.40L417.15 90.36L417.41 91.33L417.67 92.29L417.93 93.26L418.20 94.22L418.46 95.19L418.74 96.15L419.01 97.11L419.29 98.07L419.57 99.03L419.85 99.99L420.14 100.95L420.44 101.90L420.73 102.86L421.03 103.81L421.34 104.76L421.65 105.72L421.96 106.66L422.28 107.61L422.60 108.56L422.93 109.50L423.26 110.45L423.60 111.39L423.95 112.32L424.30 113.26L424.66 114.19L425.02 115.13L425.39 116.05L425.77 116.98L426.15 117.90L426.54 118.82L426.94 119.74L427.35 120.65L427.77 121.56L428.19 122.47L428.62 123.37L429.07 124.26L429.52 125.15L429.98 126.04L430.46 126.92L430.94 127.79L431.44 128.66L431.94 129.52L432.46 130.37L432.99 131.22L433.54 132.06L434.10 132.89L434.67 133.71L435.25 134.52L435.85 135.32L436.46 136.11L437.09 136.88L437.73 137.65L438.39 138.40L439.06 139.14L439.75 139.86L440.45 140.57L441.16 141.26L441.90 141.94L442.64 142.61L443.40 143.25L444.18 143.88L444.96 144.49L445.77 145.09L446.58 145.66L447.41 146.22L448.25 146.76L449.10 147.29L449.96 147.79L450.83 148.28L451.70 148.76L452.59 149.21L453.49 149.65L454.39 150.08L455.31 150.48L456.22 150.88L457.15 151.26L458.08 151.62L459.01 151.97L459.95 152.31L460.90 152.64L461.84 152.96L462.80 153.27L463.75 153.56L464.71 153.85L465.67 154.12L466.63 154.39L467.60 154.65L468.57 154.90L469.54 155.14L470.51 155.38L471.48 155.60L472.46 155.82L473.43 156.04L474.41 156.25L475.39 156.45L476.37 156.65L477.35 156.84L478.33 157.03L479.31 157.21L480.30 157.39L481.28 157.57L482.27 157.74L483.25 157.90L484.24 158.07L485.23 158.23L486.22 158.38L487.20 158.54L488.19 158.69L489.18 158.83L490.17 158.98L491.16 159.12L492.15 159.26L493.14 159.39L494.13 159.53L495.12 159.66L496.12 159.78L497.11 159.91L498.10 160.03L499.09 160.16L500.09 160.27L501.08 160.39L502.07 160.51L503.07 160.62L504.06 160.73L505.05 160.84L506.05 160.95L507.04 161.06L508.04 161.16L509.03 161.27L510.03 161.37L511.02 161.47L512.02 161.57L513.01 161.67L514.01 161.76L515.00 161.86L516.00 161.95L516.99 162.04L517.99 162.13L518.99 162.22L519.98 162.31L520.98 162.39L521.97 162.48L522.97 162.56L523.97 162.65L524.96 162.73L525.96 162.81L526.96 162.89L527.95 162.97L528.95 163.05L529.95 163.12L530.94 163.20L531.94 163.27L532.94 163.35L533.94 163.42L534.93 163.49L535.93 163.56L536.93 163.63L537.93 163.70L538.92 163.77L539.92 163.84L540.92 163.90L541.92 163.97L542.92 164.03L543.91 164.10L544.91 164.16L545.91 164.22L546.91 164.29L547.91 164.35L548.90 164.41L549.90 164.47L550.90 164.53L551.90 164.58L552.90 164.64L553.90 164.70L554.89 164.75L555.89 164.81L556.89 164.86L557.89 164.92L558.89 164.97L559.89 165.02L560.88 165.08L561.88 165.13L562.88 165.18L563.88 165.23L564.88 165.28L565.88 165.33L566.88 165.38L567.88 165.43L568.87 165.48L569.87 165.52L570.87 165.57L571.87 165.62L572.87 165.66L573.87 165.71L574.87 165.75L575.87 165.80L576.87 165.84L577.87 165.89L578.86 165.93L579.86 165.97L580.86 166.01L581.86 166.06L582.86 166.10L583.86 166.14L584.86 166.18L585.86 166.22L586.86 166.26L587.86 166.30L588.86 166.34L589.86 166.38L590.85 166.42L591.85 166.45L592.85 166.49L593.85 166.53L594.85 166.57L595.85 166.60L596.85 166.64L597.85 166.67L598.85 166.71L599.85 166.74L600.85 166.78L601.85 166.81L602.85 166.85L603.85 166.88L604.85 166.92L605.84 166.95L606.84 166.98L607.84 167.01L608.84 167.05L609.84 167.08L610.84 167.11L611.84 167.14L612.84 167.17L613.84 167.20L614.84 167.23L615.84 167.26L616.84 167.29L617.84 167.32L618.84 167.35L619.84 167.38L620.84 167.41L621.84 167.44L622.84 167.47L623.84 167.49L624.84 167.52L625.84 167.55L626.84 167.58L627.83 167.60L628.83 167.63L629.83 167.66L630.83 167.68L631.83 167.71L632.83 167.74L633.83 167.76L634.83 167.79L635.83 167.81L636.83 167.84L637.83 167.86L638.83 167.89L639.83 167.91L640.83 167.94L641.83 167.96L642.83 167.99L643.83 168.01L644.83 168.03L645.83 168.06L646.83 168.08L647.83 168.10L648.83 168.13L649.83 168.15L650.83 168.17L651.83 168.19L652.83 168.21L653.83 168.24L654.83 168.26L655.83 168.28L656.83 168.30L657.83 168.32L658.83 168.34L659.83 168.36L660.83 168.38L661.83 168.40L662.82 168.42L663.82 168.44L664.82 168.46L665.82 168.48L666.82 168.50L667.82 168.52L668.82 168.54L669.82 168.56L670.82 168.58L671.82 168.60L672.82 168.62L673.82 168.64L674.81 168.66L675.80 168.68L676.78 168.70L677.74 168.71L678.69 168.73L679.62 168.75L680.54 168.76L681.00 168.77" stroke="#FDD420"/>
<path d="M399.60 163.20L399.60 162.70L399.60 162.20L399.60 161.70L399.60 161.20L399.60 160.70L399.60 160.20L399.60 159.70L399.60 159.20L399.60 158.70L399.60 158.20L399.60 157.70L399.60 157.20L399.60 156.70L399.60 156.20L399.60 155.70L399.60 155.20L399.60 154.70L399.60 154.20L399.60 153.70L399.61 153.20L399.61 152.70L399.61 152.20L399.61 151.70L399.61 151.20L399.61 150.70L399.61 150.20L399.61 149.70L399.61 149.20L399.61 148.70L399.61 148.20L399.61 147.70L399.61 147.20L399.61 146.70L399.61 146.20L399.61 145.70L399.61 145.20L399.61 144.70L399.61 144.20L399.61 143.70L399.62 143.20L399.62 142.70L399.62 142.20L399.62 141.70L399.62 141.20L399.62 140.70L399.62 140.20L399.62 139.70L399.62 139.20L399.62 138.70L399.62 138.20L399.62 137.70L399.62 137.20L399.62 136.70L399.62 136.20L399.63 135.70L399.63 135.20L399.63 134.70L399.63 134.20L399.63 133.70L399.63 133.20L399.63 132.70L399.63 132.20L399.63 131.70L399.63 131.20L399.63 130.70L399.63 130.20L399.63 129.70L399.63 129.20L399.64 128.70L399.64 128.20L399.64 127.70L399.64 127.20L399.64 126.70L399.64 126.20L399.64 125.70L399.64 125.20L399.64 124.70L399.64 124.20L399.64 123.70L399.64 123.20L399.65 122.70L399.65 122.20L399.65 121.70L399.65 121.20L399.65 120.70L399.65 120.20L399.65 119.70L399.65 119.20L399.65 118.70L399.65 118.20L399.65 117.70L399.66 117.20L399.66 116.70L399.66 116.20L399.66 115.70L399.66 115.20L399.66 114.70L399.66 114.20L399.66 113.70L399.66 113.20L399.66 112.70L399.67 112.20L399.67 111.70L399.67 111.20L399.67 110.70L399.67 110.20L399.67 109.70L399.67 109.20L399.67 108.70L399.68 108.20L399.68 107.70L399.68 107.20L399.68 106.70L399.68 106.20L399.68 105.70L399.68 105.20L399.69 104.70L399.69 104.20L399.69 103.70L399.69 103.20L399.69 102.70L399.69 102.20L399.69 101.70L399.70 101.20L399.70 100.70L399.70 100.20L399.70 99.70L399.70 99.20L399.70 98.70L399.71 98.20L399.71 97.70L399.71 97.20L399.71 96.70L399.71 96.20L399.71 95.70L399.72 95.20L399.72 94.70L399.72 94.20L399.72 93.70L399.72 93.20L399.72 92.70L399.73 92.20L399.73 91.70L399.73 91.20L399.73 90.70L399.73 90.20L399.73 89.70L399.74 89.20L399.74 88.70L399.74 88.20L399.74 87.70L399.74 87.20L399.74 86.70L399.75 86.20L399.75 85.70L399.75 85.20L399.75 84.70L399.75 84.20L399.75 83.70L399.76 83.20L399.76 82.70L399.76 82.20L399.76 81.70L399.76 81.20L399.76 80.70L399.77 80.20L399.77 79.70L399.77 79.20L399.77 78.70L399.77 78.20L399.77 77.70L399.77 77.20L399.78 76.70L399.78 76.20L399.78 75.70L399.78 75.20L399.78 74.70L399.78 74.20L399.78 73.70L399.79 73.20L399.79 72.70L399.79 72.20L399.79 71.70L399.79 71.20L399.79 70.70L399.80 70.20L399.80 69.70L399.80 69.20L399.80 68.70L399.80 68.20L399.80 67.70L399.81 67.20L399.81 66.70L399.81 66.20L399.81 65.70L399.81 65.20L399.82 64.70L399.82 64.20L399.82 63.70L399.82 63.20L399.82 62.70L399.83 62.20L399.83 61.70L399.83 61.20L399.83 60.70L399.84 60.20L399.84 59.70L399.84 59.20L399.84 58.70L399.85 58.20L399.85 57.70L399.85 57.20L399.85 56.70L399.86 56.20L399.86 55.70L399.86 55.20L399.87 54.70L399.87 54.20L399.87 53.70L399.88 53.20L399.88 52.70L399.88 52.20L399.89 51.70L399.89 51.20L399.89 50.70L399.90 50.20L399.90 49.70L399.91 49.20L399.91 48.70L399.92 48.20L399.92 47.70L399.93 47.20L399.94 46.70L399.95 46.20L399.95 45.70L399.96 45.20L399.97 44.70L399.98 44.20L399.99 43.70L400.00 43.20L400.02 42.70L400.03 42.20L400.04 41.70L400.06 41.20L400.07 40.70L400.08 40.20L400.10 39.70L400.11 39.20L400.13 38.69L400.15 38.20L400.16 37.70L400.18 37.20L400.20 36.70L400.22 36.20L400.24 35.70L400.26 35.20L400.28 34.70L400.30 34.20L400.32 33.70L400.34 33.20L400.37 32.70L400.39 32.20L400.42 31.71L400.44 31.21L400.47 30.71L400.49 30.21L400.53 29.71L400.56 29.21L400.60 28.71L400.65 28.21L400.70 27.71L400.75 27.20L400.80 26.70L400.86 26.20L400.93 25.71L401.00 25.21L401.07 24.72L401.15 24.22L401.23 23.73L401.31 23.24L401.40 22.76L401.50 22.27L401.62 21.78L401.76 21.29L401.93 20.81L402.13 20.35L402.34 19.92L402.62 19.44L402.98 18.99L403.32 18.80L403.64 19.06L403.95 19.57L404.16 20.05L404.33 20.51L404.47 20.99L404.60 21.48L404.70 21.98L404.80 22.48L404.88 22.97L404.96 23.46L405.03 23.95L405.09 24.45L405.15 24.94L405.21 25.44L405.27 25.94L405.32 26.44L405.37 26.93L405.42 27.43L405.48 27.93L405.53 28.43L405.59 28.93L405.65 29.42L405.71 29.92L405.77 30.42L405.83 30.91L405.89 31.41L405.95 31.91L406.01 32.40L406.07 32.90L406.13 33.39L406.19 33.89L406.25 34.39L406.31 34.88L406.37 35.38L406.43 35.88L406.48 36.37L406.54 36.87L406.60 37.37L406.66 37.86L406.71 38.36L406.77 38.86L406.82 39.36L406.88 39.85L406.93 40.35L406.98 40.85L407.03 41.35L407.08 41.84L407.12 42.34L407.17 42.84L407.22 43.34L407.27 43.84L407.31 44.34L407.36 44.83L407.41 45.33L407.47 45.83L407.52 46.33L407.58 46.82L407.65 47.32L407.71 47.81L407.78 48.31L407.86 48.80L407.94 49.29L408.02 49.78L408.10 50.27L408.19 50.77L408.29 51.26L408.38 51.75L408.48 52.24L408.57 52.73L408.67 53.22L408.77 53.71L408.87 54.20L408.97 54.69L409.07 55.17L409.17 55.66L409.27 56.15L409.37 56.64L409.47 57.13L409.57 57.62L409.66 58.12L409.76 58.61L409.86 59.10L410.05 60.08L410.24 61.06L410.42 62.04L410.61 63.02L410.80 64.01L410.98 64.99L411.16 65.97L411.35 66.96L411.53 67.94L411.71 68.92L411.89 69.91L412.07 70.89L412.25 71.87L412.43 72.86L412.61 73.84L412.80 74.82L412.98 75.81L413.16 76.79L413.34 77.77L413.53 78.76L413.71 79.74L413.89 80.72L414.08 81.70L414.27 82.69L414.45 83.67L414.64 84.65L414.83 85.63L415.02 86.62L415.21 87.60L415.41 88.58L415.60 89.56L415.80 90.54L415.99 91.52L416.19 92.50L416.39 93.48L416.59 94.46L416.80 95.44L417.00 96.42L417.21 97.39L417.42 98.37L417.64 99.35L417.85 100.33L418.07 101.30L418.29 102.28L418.51 103.25L418.74 104.23L418.97 105.20L419.20 106.17L419.43 107.14L419.67 108.12L419.91 109.09L420.15 110.06L420.40 111.02L420.65 111.99L420.91 112.96L421.17 113.92L421.43 114.89L421.70 115.85L421.97 116.81L422.25 117.77L422.53 118.73L422.82 119.69L423.12 120.65L423.42 121.60L423.72 122.55L424.03 123.50L424.35 124.45L424.68 125.40L425.01 126.34L425.35 127.28L425.70 128.21L426.06 129.15L426.42 130.08L426.80 131.00L427.19 131.93L427.58 132.84L427.99 133.76L428.40 134.67L428.83 135.57L429.27 136.47L429.73 137.36L430.19 138.24L430.67 139.11L431.17 139.98L431.68 140.84L432.21 141.69L432.75 142.52L433.31 143.35L433.89 144.16L434.48 144.96L435.10 145.75L435.73 146.52L436.38 147.28L437.05 148.01L437.74 148.73L438.45 149.43L439.18 150.11L439.93 150.77L440.69 151.41L441.47 152.03L442.27 152.62L443.09 153.20L443.92 153.74L444.77 154.27L445.63 154.78L446.50 155.26L447.38 155.72L448.28 156.16L449.18 156.58L450.10 156.98L451.02 157.36L451.95 157.73L452.89 158.08L453.83 158.41L454.78 158.72L455.73 159.03L456.68 159.31L457.64 159.59L458.61 159.85L459.58 160.11L460.54 160.35L461.52 160.58L462.49 160.81L463.47 161.02L464.44 161.23L465.42 161.43L466.40 161.63L467.39 161.81L468.37 161.99L469.35 162.17L470.34 162.34L471.33 162.50L472.31 162.66L473.30 162.82L474.29 162.97L475.28 163.11L476.27 163.26L477.26 163.39L478.25 163.53L479.24 163.66L480.23 163.79L481.23 163.91L482.22 164.04L483.21 164.16L484.20 164.27L485.20 164.39L486.19 164.50L487.18 164.61L488.18 164.72L489.17 164.82L490.17 164.92L491.16 165.02L492.16 165.12L493.15 165.22L494.15 165.31L495.14 165.40L496.14 165.50L497.14 165.58L498.13 165.67L499.13 165.76L500.13 165.84L501.12 165.93L502.12 166.01L503.12 166.09L504.11 166.17L505.11 166.24L506.11 166.32L507.10 166.39L508.10 166.47L509.10 166.54L510.10 166.61L511.09 166.68L512.09 166.74L513.09 166.81L514.09 166.88L515.08 166.94L516.08 167.00L517.08 167.07L518.08 167.13L519.08 167.19L520.07 167.25L521.07 167.31L522.07 167.36L523.07 167.42L524.07 167.48L525.07 167.53L526.07 167.59L527.06 167.64L528.06 167.69L529.06 167.75L530.06 167.80L531.06 167.85L532.06 167.90L533.06 167.94L534.05 167.99L535.05 168.04L536.05 168.09L537.05 168.13L538.05 168.18L539.05 168.22L540.05 168.26L541.05 168.31L542.05 168.35L543.05 168.39L544.05 168.43L545.04 168.47L546.04 168.51L547.04 168.55L548.04 168.59L549.04 168.63L550.04 168.67L551.04 168.71L552.04 168.74L553.04 168.78L554.04 168.82L555.04 168.85L556.04 168.89L557.04 168.92L558.04 168.96L559.03 168.99L560.03 169.02L561.03 169.06L562.03 169.09L563.03 169.12L564.03 169.15L565.03 169.18L566.03 169.21L567.03 169.24L568.03 169.27L569.03 169.30L570.03 169.33L571.03 169.36L572.03 169.39L573.03 169.42L574.03 169.45L575.03 169.47L576.03 169.50L577.03 169.53L578.03 169.55L579.03 169.58L580.03 169.61L581.02 169.63L582.02 169.66L583.02 169.68L584.02 169.71L585.02 169.73L586.02 169.76L587.02 169.78L588.02 169.80L589.02 169.83L590.02 169.85L591.02 169.87L592.02 169.89L593.02 169.92L594.02 169.94L595.02 169.96L596.02 169.98L597.02 170.00L598.02 170.02L599.02 170.04L600.02 170.06L601.02 170.08L602.02 170.10L603.02 170.12L604.02 170.14L605.02 170.16L606.02 170.18L607.02 170.20L608.02 170.22L609.02 170.24L610.02 170.26L611.02 170.28L612.02 170.29L613.02 170.31L614.02 170.33L615.02 170.35L616.02 170.36L617.02 170.38L618.02 170.40L619.02 170.41L620.02 170.43L621.02 170.45L622.02 170.46L623.02 170.48L624.02 170.50L625.02 170.51L626.02 170.53L627.02 170.54L628.02 170.56L629.01 170.57L630.01 170.59L631.01 170.60L632.01 170.62L633.01 170.63L634.01 170.65L635.01 170.66L636.01 170.67L637.01 170.69L638.01 170.70L639.01 170.72L640.01 170.73L641.01 170.74L642.01 170.76L643.01 170.77L644.01 170.78L645.01 170.79L646.01 170.81L647.01 170.82L648.01 170.83L649.01 170.85L650.01 170.86L651.01 170.87L652.01 170.88L653.01 170.89L654.01 170.91L655.01 170.92L656.01 170.93L657.01 170.94L658.01 170.95L659.01 170.96L660.01 170.97L661.01 170.99L662.01 171.00L663.01 171.01L664.01 171.02L665.01 171.03L666.01 171.04L667.01 171.05L668.01 171.06L669.01 171.07L670.01 171.08L671.01 171.09L672.01 171.10L673.01 171.11L674.01 171.12L675.01 171.13L676.01 171.14L677.01 171.15L678.01 171.16L679.01 171.17L680.00 171.18L681.00 171.19" stroke="#1CBEC0"/>
<path d="M399.60 163.20L399.60 162.70L399.60 162.20L399.60 161.70L399.60 161.20L399.60 160.70L399.60 160.20L399.60 159.70L399.61 159.20L399.61 158.70L399.61 158.20L399.61 157.70L399.61 157.20L399.61 156.70L399.61 156.20L399.61 155.70L399.61 155.20L399.61 154.70L399.61 154.20L399.61 153.70L399.62 153.20L399.62 152.70L399.62 152.20L399.62 151.70L399.62 151.20L399.62 150.70L399.62 150.20L399.62 149.70L399.62 149.20L399.62 148.70L399.63 148.20L399.63 147.70L399.63 147.20L399.63 146.70L399.63 146.20L399.63 145.70L399.63 145.20L399.63 144.70L399.63 144.20L399.64 143.70L399.64 143.20L399.64 142.70L399.64 142.20L399.64 141.70L399.64 141.20L399.64 140.70L399.64 140.20L399.64 139.70L399.65 139.20L399.65 138.70L399.65 138.20L399.65 137.70L399.65 137.20L399.65 136.70L399.65 136.20L399.66 135.70L399.66 135.20L399.66 134.70L399.66 134.20L399.66 133.70L399.66 133.20L399.66 132.70L399.66 132.20L399.67 131.70L399.67 131.20L399.67 130.70L399.67 130.20L399.67 129.70L399.67 129.20L399.67 128.70L399.68 128.20L399.68 127.70L399.68 127.20L399.68 126.70L399.68 126.20L399.68 125.70L399.68 125.20L399.69 124.70L399.69 124.20L399.69 123.70L399.69 123.20L399.69 122.70L399.69 122.20L399.69 121.70L399.70 121.20L399.70 120.70L399.70 120.20L399.70 119.70L399.70 119.20L399.70 118.70L399.71 118.20L399.71 117.70L399.71 117.20L399.71 116.70L399.71 116.20L399.71 115.70L399.72 115.20L399.72 114.70L399.72 114.20L399.72 113.70L399.72 113.20L399.72 112.70L399.73 112.20L399.73 111.70L399.73 111.20L399.73 110.70L399.73 110.20L399.74 109.70L399.74 109.20L399.74 108.70L399.74 108.20L399.74 107.70L399.75 107.20L399.75 106.70L399.75 106.20L399.75 105.70L399.76 105.20L399.76 104.70L399.76 104.20L399.76 103.70L399.76 103.20L399.77 102.70L399.77 102.20L399.77 101.70L399.77 101.20L399.77 100.70L399.78 100.20L399.78 99.70L399.78 99.20L399.78 98.70L399.79 98.20L399.79 97.70L399.79 97.20L399.79 96.70L399.80 96.20L399.80 95.70L399.80 95.20L399.80 94.70L399.81 94.20L399.81 93.70L399.81 93.20L399.81 92.70L399.81 92.20L399.82 91.70L399.82 91.20L399.82 90.70L399.82 90.20L399.83 89.70L399.83 89.20L399.83 88.70L399.83 88.20L399.84 87.70L399.84 87.20L399.84 86.70L399.84 86.20L399.85 85.70L399.85 85.20L399.85 84.70L399.85 84.20L399.86 83.70L399.86 83.20L399.86 82.70L399.86 82.20L399.87 81.70L399.87 81.20L399.87 80.70L399.87 80.20L399.87 79.70L399.88 79.20L399.88 78.70L399.88 78.20L399.88 77.70L399.88 77.20L399.89 76.70L399.89 76.20L399.89 75.70L399.89 75.20L399.89 74.70L399.90 74.20L399.90 73.70L399.90 73.20L399.90 72.70L399.90 72.20L399.91 71.70L399.91 71.20L399.91 70.70L399.91 70.20L399.92 69.70L399.92 69.20L399.92 68.70L399.92 68.20L399.92 67.70L399.93 67.20L399.93 66.70L399.93 66.20L399.93 65.70L399.94 65.20L399.94 64.70L399.94 64.20L399.94 63.70L399.95 63.20L399.95 62.70L399.95 62.20L399.96 61.70L399.96 61.20L399.96 60.70L399.97 60.20L399.97 59.70L399.97 59.20L399.98 58.70L399.98 58.20L399.98 57.70L399.99 57.20L399.99 56.70L399.99 56.20L400.00 55.70L400.00 55.20L400.01 54.70L400.01 54.20L400.01 53.70L400.02 53.20L400.02 52.70L400.03 52.20L400.03 51.70L400.04 51.20L400.04 50.70L400.05 50.20L400.05 49.70L400.06 49.20L400.07 48.70L400.07 48.20L400.08 47.70L400.09 47.20L400.10 46.70L400.11 46.20L400.12 45.70L400.13 45.20L400.14 44.70L400.15 44.20L400.17 43.70L400.18 43.20L400.19 42.70L400.21 42.20L400.22 41.70L400.24 41.20L400.26 40.70L400.27 40.20L400.29 39.70L400.31 39.20L400.33 38.70L400.35 38.20L400.37 37.70L400.39 37.20L400.41 36.70L400.43 36.20L400.45 35.70L400.48 35.20L400.50 34.70L400.52 34.20L400.55 33.70L400.57 33.20L400.60 32.70L400.62 32.20L400.65 31.71L400.68 31.21L400.70 30.71L400.73 30.21L400.76 29.71L400.79 29.21L400.82 28.72L400.85 28.22L400.88 27.72L400.92 27.22L400.96 26.72L401.01 26.22L401.05 25.72L401.10 25.22L401.16 24.72L401.21 24.22L401.27 23.72L401.33 23.22L401.40 22.73L401.46 22.23L401.54 21.74L401.61 21.24L401.69 20.75L401.77 20.26L401.85 19.77L401.94 19.28L402.04 18.79L402.16 18.29L402.30 17.80L402.45 17.32L402.63 16.87L402.85 16.39L403.15 15.88L403.47 15.60L403.79 15.79L404.10 16.29L404.33 16.78L404.50 17.23L404.64 17.71L404.76 18.21L404.86 18.71L404.95 19.21L405.03 19.70L405.10 20.19L405.17 20.68L405.23 21.18L405.29 21.68L405.34 22.17L405.39 22.67L405.44 23.17L405.48 23.67L405.53 24.17L405.57 24.67L405.62 25.17L405.66 25.67L405.71 26.16L405.76 26.66L405.82 27.16L405.87 27.66L405.93 28.15L405.99 28.65L406.04 29.15L406.10 29.64L406.16 30.14L406.22 30.64L406.28 31.13L406.34 31.63L406.40 32.13L406.46 32.62L406.51 33.12L406.57 33.62L406.63 34.11L406.69 34.61L406.75 35.11L406.81 35.60L406.86 36.10L406.92 36.60L406.98 37.09L407.03 37.59L407.09 38.09L407.14 38.58L407.19 39.08L407.24 39.58L407.29 40.08L407.34 40.57L407.39 41.07L407.43 41.57L407.48 42.07L407.52 42.57L407.57 43.07L407.61 43.57L407.65 44.07L407.70 44.56L407.75 45.06L407.80 45.56L407.85 46.06L407.90 46.55L407.96 47.05L408.02 47.55L408.08 48.04L408.15 48.53L408.22 49.03L408.29 49.52L408.37 50.01L408.45 50.51L408.54 51.00L408.62 51.49L408.71 51.98L408.80 52.47L408.89 52.96L408.98 53.46L409.07 53.95L409.16 54.44L409.25 54.93L409.34 55.42L409.43 55.91L409.52 56.41L409.61 56.90L409.78 57.88L409.95 58.87L410.11 59.85L410.27 60.84L410.43 61.83L410.59 62.82L410.74 63.80L410.89 64.79L411.05 65.78L411.20 66.77L411.34 67.76L411.49 68.75L411.64 69.74L411.78 70.73L411.93 71.72L412.08 72.70L412.22 73.69L412.37 74.68L412.51 75.67L412.65 76.66L412.80 77.65L412.94 78.64L413.09 79.63L413.23 80.62L413.38 81.61L413.52 82.60L413.67 83.59L413.81 84.58L413.96 85.57L414.11 86.56L414.25 87.55L414.40 88.53L414.55 89.52L414.70 90.51L414.85 91.50L415.00 92.49L415.16 93.48L415.31 94.47L415.46 95.45L415.62 96.44L415.78 97.43L415.93 98.42L416.09 99.40L416.25 100.39L416.42 101.38L416.58 102.36L416.75 103.35L416.91 104.34L417.08 105.32L417.25 106.31L417.42 107.29L417.60 108.28L417.77 109.26L417.95 110.24L418.13 111.23L418.31 112.21L418.50 113.19L418.69 114.18L418.88 115.16L419.07 116.14L419.27 117.12L419.47 118.10L419.67 119.08L419.87 120.06L420.08 121.04L420.29 122.01L420.51 122.99L420.73 123.96L420.95 124.94L421.18 125.91L421.41 126.89L421.65 127.86L421.89 128.83L422.14 129.80L422.39 130.76L422.65 131.73L422.92 132.69L423.19 133.66L423.46 134.62L423.75 135.57L424.04 136.53L424.34 137.48L424.65 138.44L424.96 139.38L425.29 140.33L425.62 141.27L425.97 142.21L426.33 143.14L426.69 144.07L427.08 144.99L427.47 145.91L427.88 146.82L428.30 147.73L428.74 148.62L429.20 149.51L429.67 150.39L430.17 151.26L430.68 152.11L431.22 152.95L431.77 153.78L432.35 154.59L432.96 155.38L433.59 156.15L434.24 156.90L434.92 157.62L435.63 158.33L436.36 159.00L437.11 159.64L437.89 160.26L438.69 160.84L439.52 161.40L440.36 161.92L441.23 162.41L442.11 162.87L443.01 163.30L443.92 163.70L444.84 164.07L445.78 164.42L446.72 164.74L447.67 165.04L448.63 165.31L449.60 165.57L450.57 165.81L451.54 166.03L452.52 166.24L453.50 166.43L454.48 166.61L455.47 166.79L456.45 166.95L457.44 167.10L458.43 167.24L459.42 167.38L460.41 167.51L461.40 167.63L462.40 167.75L463.39 167.86L464.38 167.97L465.38 168.07L466.37 168.17L467.37 168.27L468.36 168.36L469.36 168.45L470.36 168.54L471.35 168.63L472.35 168.71L473.35 168.79L474.34 168.87L475.34 168.94L476.34 169.01L477.33 169.09L478.33 169.16L479.33 169.23L480.33 169.29L481.33 169.36L482.32 169.42L483.32 169.48L484.32 169.55L485.32 169.61L486.32 169.66L487.31 169.72L488.31 169.78L489.31 169.83L490.31 169.89L491.31 169.94L492.31 169.99L493.31 170.04L494.30 170.09L495.30 170.14L496.30 170.19L497.30 170.23L498.30 170.28L499.30 170.32L500.30 170.37L501.30 170.41L502.30 170.45L503.30 170.50L504.29 170.54L505.29 170.58L506.29 170.62L507.29 170.65L508.29 170.69L509.29 170.73L510.29 170.77L511.29 170.80L512.29 170.84L513.29 170.87L514.29 170.90L515.29 170.94L516.29 170.97L517.29 171.00L518.29 171.03L519.28 171.06L520.28 171.09L521.28 171.12L522.28 171.15L523.28 171.18L524.28 171.21L525.28 171.24L526.28 171.26L527.28 171.29L528.28 171.32L529.28 171.34L530.28 171.37L531.28 171.39L532.28 171.42L533.28 171.44L534.28 171.46L535.28 171.49L536.28 171.51L537.28 171.53L538.28 171.55L539.28 171.57L540.28 171.59L541.28 171.61L542.28 171.63L543.28 171.65L544.28 171.67L545.28 171.69L546.28 171.71L547.28 171.73L548.28 171.75L549.28 171.77L550.28 171.79L551.28 171.80L552.28 171.82L553.28 171.84L554.28 171.85L555.28 171.87L556.28 171.89L557.28 171.90L558.27 171.92L559.27 171.93L560.27 171.95L561.27 171.96L562.27 171.98L563.27 171.99L564.27 172.00L565.27 172.02L566.27 172.03L567.27 172.04L568.27 172.06L569.27 172.07L570.27 172.08L571.27 172.09L572.27 172.11L573.27 172.12L574.27 172.13L575.27 172.14L576.27 172.15L577.27 172.16L578.27 172.18L579.27 172.19L580.27 172.20L581.27 172.21L582.27 172.22L583.27 172.23L584.27 172.24L585.27 172.25L586.27 172.26L587.27 172.27L588.27 172.27L589.27 172.28L590.27 172.29L591.27 172.30L592.27 172.31L593.27 172.32L594.27 172.33L595.27 172.33L596.27 172.34L597.27 172.35L598.27 172.36L599.27 172.37L600.27 172.37L601.27 172.38L602.27 172.39L603.27 172.40L604.27 172.40L605.27 172.41L606.27 172.42L607.27 172.42L608.27 172.43L609.27 172.44L610.27 172.44L611.27 172.45L612.27 172.46L613.27 172.46L614.27 172.47L615.27 172.47L616.27 172.48L617.27 172.49L618.27 172.49L619.27 172.50L620.27 172.50L621.27 172.51L622.27 172.51L623.27 172.52L624.27 172.53L625.27 172.53L626.27 172.54L627.27 172.54L628.27 172.55L629.27 172.55L630.27 172.56L631.27 172.56L632.27 172.56L633.27 172.57L634.27 172.57L635.27 172.58L636.27 172.58L637.27 172.59L638.27 172.59L639.27 172.59L640.27 172.60L641.27 172.60L642.27 172.61L643.27 172.61L644.27 172.61L645.27 172.62L646.27 172.62L647.27 172.63L648.27 172.63L649.27 172.63L650.27 172.64L651.27 172.64L652.27 172.64L653.27 172.65L654.27 172.65L655.27 172.65L656.27 172.66L657.27 172.66L658.27 172.66L659.27 172.67L660.27 172.67L661.27 172.67L662.27 172.67L663.27 172.68L664.27 172.68L665.27 172.68L666.27 172.69L667.27 172.69L668.27 172.69L669.27 172.69L670.27 172.70L671.27 172.70L672.27 172.70L673.27 172.70L674.26 172.71L675.26 172.71L676.24 172.71L677.22 172.71L678.18 172.72L679.13 172.72L680.07 172.72L681.00 172.72" stroke="#FF9AC9"/>
<path d="M399.60 163.20L399.60 162.70L399.60 162.20L399.60 161.70L399.61 161.20L399.61 160.70L399.61 160.20L399.61 159.70L399.61 159.20L399.61 158.70L399.62 158.20L399.62 157.70L399.62 157.20L399.62 156.70L399.62 156.20L399.62 155.70L399.62 155.20L399.63 154.70L399.63 154.20L399.63 153.70L399.63 153.20L399.63 152.70L399.63 152.20L399.64 151.70L399.64 151.20L399.64 150.70L399.64 150.20L399.64 149.70L399.64 149.20L399.65 148.70L399.65 148.20L399.65 147.70L399.65 147.20L399.65 146.70L399.65 146.20L399.66 145.70L399.66 145.20L399.66 144.70L399.66 144.20L399.66 143.70L399.66 143.20L399.67 142.70L399.67 142.20L399.67 141.70L399.67 141.20L399.67 140.70L399.68 140.20L399.68 139.70L399.68 139.20L399.68 138.70L399.68 138.20L399.68 137.70L399.69 137.20L399.69 136.70L399.69 136.20L399.69 135.70L399.69 135.20L399.70 134.70L399.70 134.20L399.70 133.70L399.70 133.20L399.70 132.70L399.70 132.20L399.71 131.70L399.71 131.20L399.71 130.70L399.71 130.20L399.71 129.70L399.72 129.20L399.72 128.70L399.72 128.20L399.72 127.70L399.72 127.20L399.72 126.70L399.73 126.20L399.73 125.70L399.73 125.20L399.73 124.70L399.73 124.20L399.74 123.70L399.74 123.20L399.74 122.70L399.74 122.20L399.74 121.70L399.75 121.20L399.75 120.70L399.75 120.20L399.75 119.70L399.75 119.20L399.76 118.70L399.76 118.20L399.76 117.70L399.76 117.20L399.76 116.70L399.76 116.20L399.77 115.70L399.77 115.20L399.77 114.70L399.77 114.20L399.77 113.70L399.78 113.20L399.78 112.70L399.78 112.20L399.78 111.70L399.78 111.20L399.79 110.70L399.79 110.20L399.79 109.70L399.79 109.20L399.79 108.70L399.80 108.20L399.80 107.70L399.80 107.20L399.80 106.70L399.80 106.20L399.81 105.70L399.81 105.20L399.81 104.70L399.81 104.20L399.82 103.70L399.82 103.20L399.82 102.70L399.82 102.20L399.82 101.70L399.83 101.20L399.83 100.70L399.83 100.20L399.83 99.70L399.83 99.20L399.84 98.70L399.84 98.20L399.84 97.70L399.84 97.20L399.85 96.70L399.85 96.20L399.85 95.70L399.85 95.20L399.85 94.70L399.86 94.20L399.86 93.70L399.86 93.20L399.86 92.70L399.87 92.20L399.87 91.70L399.87 91.20L399.87 90.70L399.88 90.20L399.88 89.70L399.88 89.20L399.88 88.70L399.88 88.20L399.89 87.70L399.89 87.20L399.89 86.70L399.89 86.20L399.90 85.70L399.90 85.20L399.90 84.70L399.90 84.20L399.91 83.70L399.91 83.20L399.91 82.70L399.91 82.20L399.92 81.70L399.92 81.20L399.92 80.70L399.92 80.20L399.92 79.70L399.93 79.20L399.93 78.70L399.93 78.20L399.93 77.70L399.93 77.20L399.94 76.70L399.94 76.20L399.94 75.70L399.94 75.20L399.94 74.70L399.95 74.20L399.95 73.70L399.95 73.20L399.95 72.70L399.96 72.20L399.96 71.70L399.96 71.20L399.96 70.70L399.96 70.20L399.97 69.70L399.97 69.20L399.97 68.70L399.97 68.20L399.98 67.70L399.98 67.20L399.98 66.70L399.98 66.20L399.99 65.70L399.99 65.20L399.99 64.70L399.99 64.20L400.00 63.70L400.00 63.20L400.00 62.70L400.00 62.20L400.01 61.70L400.01 61.20L400.01 60.70L400.02 60.20L400.02 59.70L400.02 59.20L400.03 58.70L400.03 58.20L400.03 57.70L400.04 57.20L400.04 56.70L400.04 56.20L400.05 55.70L400.05 55.20L400.06 54.70L400.06 54.20L400.06 53.70L400.07 53.20L400.07 52.70L400.08 52.20L400.08 51.70L400.09 51.20L400.09 50.70L400.10 50.20L400.10 49.70L400.11 49.20L400.12 48.70L400.12 48.20L400.13 47.70L400.14 47.20L400.15 46.70L400.16 46.20L400.17 45.70L400.18 45.20L400.19 44.70L400.20 44.20L400.21 43.70L400.23 43.20L400.24 42.70L400.25 42.20L400.27 41.70L400.28 41.20L400.30 40.70L400.32 40.20L400.33 39.70L400.35 39.20L400.37 38.70L400.39 38.20L400.40 37.70L400.42 37.20L400.44 36.70L400.46 36.20L400.48 35.70L400.50 35.20L400.53 34.70L400.55 34.20L400.57 33.70L400.59 33.20L400.61 32.70L400.64 32.20L400.66 31.71L400.68 31.21L400.71 30.71L400.73 30.21L400.76 29.71L400.78 29.21L400.81 28.71L400.84 28.21L400.86 27.71L400.89 27.21L400.92 26.72L400.94 26.22L400.97 25.72L401.00 25.22L401.04 24.72L401.07 24.22L401.11 23.72L401.15 23.22L401.19 22.72L401.23 22.22L401.27 21.72L401.32 21.22L401.36 20.72L401.41 20.22L401.46 19.72L401.52 19.22L401.57 18.73L401.63 18.23L401.69 17.74L401.76 17.24L401.82 16.75L401.89 16.25L401.96 15.76L402.04 15.27L402.12 14.77L402.21 14.27L402.32 13.77L402.44 13.28L402.58 12.80L402.74 12.34L402.95 11.87L403.26 11.35L403.60 11.03L403.92 11.10L404.26 11.52L404.54 12.05L404.70 12.50L404.84 12.97L404.95 13.45L405.04 13.95L405.13 14.46L405.21 14.97L405.29 15.46L405.38 15.96L405.46 16.45L405.54 16.94L405.61 17.44L405.68 17.93L405.75 18.43L405.82 18.92L405.88 19.42L405.95 19.92L406.02 20.41L406.09 20.91L406.16 21.40L406.23 21.90L406.30 22.39L406.37 22.89L406.44 23.38L406.51 23.88L406.57 24.37L406.64 24.87L406.70 25.36L406.77 25.86L406.82 26.36L406.88 26.85L406.93 27.35L406.98 27.85L407.03 28.35L407.08 28.84L407.13 29.34L407.17 29.84L407.22 30.34L407.26 30.83L407.31 31.33L407.35 31.83L407.39 32.33L407.43 32.83L407.47 33.33L407.51 33.82L407.55 34.32L407.59 34.82L407.63 35.32L407.67 35.82L407.71 36.32L407.75 36.82L407.79 37.31L407.83 37.81L407.86 38.31L407.90 38.81L407.94 39.31L407.98 39.81L408.02 40.31L408.06 40.80L408.09 41.30L408.13 41.80L408.17 42.30L408.20 42.80L408.24 43.30L408.28 43.80L408.31 44.30L408.35 44.79L408.39 45.29L408.43 45.79L408.47 46.29L408.52 46.79L408.56 47.29L408.61 47.78L408.65 48.28L408.70 48.78L408.75 49.28L408.81 49.77L408.86 50.27L408.92 50.77L409.04 51.76L409.16 52.75L409.28 53.74L409.40 54.73L409.53 55.73L409.65 56.72L409.77 57.71L409.89 58.70L410.01 59.70L410.13 60.69L410.25 61.68L410.37 62.68L410.48 63.67L410.60 64.66L410.71 65.66L410.83 66.65L410.94 67.64L411.06 68.64L411.17 69.63L411.28 70.62L411.40 71.62L411.51 72.61L411.62 73.60L411.74 74.60L411.85 75.59L411.96 76.58L412.08 77.58L412.19 78.57L412.30 79.57L412.42 80.56L412.53 81.55L412.65 82.55L412.76 83.54L412.88 84.53L413.00 85.53L413.11 86.52L413.23 87.51L413.35 88.50L413.47 89.50L413.59 90.49L413.71 91.48L413.83 92.48L413.95 93.47L414.07 94.46L414.19 95.45L414.32 96.45L414.44 97.44L414.57 98.43L414.70 99.42L414.82 100.41L414.95 101.40L415.08 102.40L415.22 103.39L415.35 104.38L415.48 105.37L415.62 106.36L415.76 107.35L415.89 108.34L416.03 109.33L416.18 110.32L416.32 111.31L416.46 112.30L416.61 113.29L416.76 114.28L416.91 115.27L417.06 116.26L417.21 117.24L417.37 118.23L417.53 119.22L417.69 120.21L417.85 121.19L418.02 122.18L418.18 123.16L418.35 124.15L418.53 125.13L418.71 126.12L418.89 127.10L419.07 128.09L419.25 129.07L419.44 130.05L419.64 131.03L419.84 132.01L420.04 132.99L420.24 133.97L420.45 134.95L420.67 135.92L420.89 136.90L421.11 137.87L421.34 138.85L421.58 139.82L421.82 140.79L422.07 141.76L422.32 142.72L422.58 143.69L422.85 144.65L423.13 145.61L423.42 146.57L423.71 147.52L424.02 148.47L424.33 149.42L424.66 150.37L425.00 151.31L425.35 152.24L425.71 153.17L426.09 154.10L426.49 155.01L426.90 155.92L427.33 156.82L427.78 157.71L428.25 158.59L428.74 159.46L429.26 160.31L429.80 161.15L430.37 161.97L430.96 162.76L431.58 163.54L432.24 164.28L432.92 165.00L433.63 165.69L434.37 166.35L435.15 166.97L435.95 167.55L436.77 168.09L437.63 168.60L438.50 169.06L439.40 169.48L440.31 169.87L441.24 170.22L442.18 170.53L443.14 170.82L444.10 171.07L445.07 171.29L446.05 171.49L447.03 171.66L448.02 171.81L449.01 171.95L450.00 172.07L450.99 172.17L451.99 172.26L452.98 172.34L453.98 172.41L454.98 172.48L455.98 172.53L456.98 172.58L457.98 172.62L458.98 172.65L459.97 172.68L460.97 172.71L461.97 172.73L462.97 172.76L463.97 172.77L464.97 172.79L465.97 172.80L466.97 172.82L467.97 172.83L468.97 172.84L469.97 172.84L470.97 172.85L471.97 172.86L472.97 172.86L473.97 172.87L474.97 172.87L475.97 172.88L476.97 172.88L477.97 172.88L478.97 172.88L479.97 172.89L480.97 172.89L481.97 172.89L482.97 172.89L483.97 172.89L484.97 172.89L485.97 172.89L486.97 172.90L487.97 172.90L488.97 172.90L489.97 172.90L490.97 172.90L491.97 172.90L492.97 172.90L493.97 172.90L494.97 172.90L495.97 172.90L496.97 172.90L497.97 172.90L498.97 172.90L499.97 172.90L500.97 172.90L501.97 172.90L502.97 172.90L503.97 172.90L504.97 172.90L505.97 172.90L506.97 172.90L507.97 172.90L508.97 172.90L509.97 172.90L510.97 172.90L511.97 172.90L512.97 172.90L513.97 172.90L514.97 172.90L515.97 172.90L516.97 172.90L517.97 172.90L518.97 172.90L519.97 172.90L520.97 172.90L521.97 172.90L522.97 172.90L523.97 172.90L524.97 172.90L525.97 172.90L526.97 172.90L527.97 172.90L528.97 172.90L529.97 172.90L530.97 172.90L531.97 172.90L532.97 172.90L533.97 172.90L534.97 172.90L535.97 172.90L536.97 172.90L537.97 172.90L538.97 172.90L539.97 172.90L540.97 172.90L541.97 172.90L542.97 172.90L543.97 172.90L544.97 172.90L545.97 172.90L546.97 172.90L547.97 172.90L548.97 172.90L549.97 172.90L550.97 172.90L551.97 172.90L552.97 172.90L553.97 172.90L554.97 172.90L555.97 172.90L556.97 172.90L557.97 172.90L558.97 172.90L559.97 172.90L560.97 172.90L561.97 172.90L562.97 172.90L563.97 172.90L564.97 172.90L565.97 172.90L566.97 172.90L567.97 172.90L568.97 172.90L569.97 172.90L570.97 172.90L571.97 172.90L572.97 172.90L573.97 172.90L574.97 172.90L575.97 172.90L576.97 172.90L577.97 172.90L578.97 172.90L579.97 172.90L580.97 172.90L581.97 172.90L582.97 172.90L583.97 172.90L584.97 172.90L585.97 172.90L586.97 172.90L587.97 172.90L588.97 172.90L589.97 172.90L590.97 172.90L591.97 172.90L592.97 172.90L593.97 172.90L594.97 172.90L595.97 172.90L596.97 172.90L597.97 172.90L598.97 172.90L599.97 172.90L600.97 172.90L601.97 172.90L602.97 172.90L603.97 172.90L604.97 172.90L605.97 172.90L606.97 172.90L607.97 172.90L608.97 172.90L609.97 172.90L610.97 172.90L611.97 172.90L612.97 172.90L613.97 172.90L614.97 172.90L615.97 172.90L616.97 172.90L617.97 172.90L618.97 172.90L619.97 172.90L620.97 172.90L621.97 172.90L622.97 172.90L623.97 172.90L624.97 172.90L625.97 172.90L626.97 172.90L627.97 172.90L628.97 172.90L629.97 172.90L630.97 172.90L631.97 172.90L632.97 172.90L633.97 172.90L634.97 172.90L635.97 172.90L636.97 172.90L637.97 172.90L638.97 172.90L639.97 172.90L640.97 172.90L641.97 172.90L642.97 172.90L643.97 172.90L644.97 172.90L645.97 172.90L646.97 172.90L647.97 172.90L648.97 172.90L649.97 172.90L650.97 172.90L651.97 172.90L652.97 172.90L653.97 172.90L654.97 172.90L655.97 172.90L656.97 172.90L657.97 172.90L658.97 172.90L659.97 172.90L660.97 172.90L661.97 172.90L662.97 172.90L663.97 172.90L664.97 172.90L665.97 172.90L666.97 172.90L667.97 172.90L668.97 172.90L669.97 172.90L670.97 172.90L671.97 172.90L672.97 172.90L673.97 172.90L674.96 172.90L675.94 172.90L676.91 172.90L677.86 172.90L678.78 172.90L679.68 172.90L680.56 172.90L681.00 172.90" stroke="#A51C3E"/>
</g>
<path d="M427.54 197.3v-2.8M427.54 3.45v2.8M455.68 197.3v-2.8M455.68 3.45v2.8M483.82 197.3v-2.8M483.82 3.45v2.8M511.96 197.3v-2.8M511.96 3.45v2.8M540.10 197.3v-2.8M540.10 3.45v2.8M568.24 197.3v-2.8M568.24 3.45v2.8M596.38 197.3v-2.8M596.38 3.45v2.8M624.52 197.3v-2.8M624.52 3.45v2.8M652.66 197.3v-2.8M652.66 3.45v2.8M399.4 173.07h2.8M680.8 173.07h-2.8M399.4 148.84h2.8M680.8 148.84h-2.8M399.4 124.61h2.8M680.8 124.61h-2.8M399.4 100.38h2.8M680.8 100.38h-2.8M399.4 76.14h2.8M680.8 76.14h-2.8M399.4 51.91h2.8M680.8 51.91h-2.8M399.4 27.68h2.8M680.8 27.68h-2.8" stroke="#777777" stroke-width="0.8" fill="none"/>
<rect x="399.4" y="3.45" width="281.40" height="193.85" fill="none" stroke="#777777" stroke-width="0.95"/>
<g font-family='"Liberation Sans", Arial, Helvetica, sans-serif' font-size="7.8" fill="#1a1a1a" stroke="#1a1a1a" stroke-width="0.22">
<text x="399.40" y="206.80" text-anchor="middle">0</text>
<text x="427.54" y="206.80" text-anchor="middle">5</text>
<text x="455.68" y="206.80" text-anchor="middle">10</text>
<text x="483.82" y="206.80" text-anchor="middle">15</text>
<text x="511.96" y="206.80" text-anchor="middle">20</text>
<text x="540.10" y="206.80" text-anchor="middle">25</text>
<text x="568.24" y="206.80" text-anchor="middle">30</text>
<text x="596.38" y="206.80" text-anchor="middle">35</text>
<text x="624.52" y="206.80" text-anchor="middle">40</text>
<text x="652.66" y="206.80" text-anchor="middle">45</text>
<text x="680.80" y="206.80" text-anchor="middle">50</text>
<text x="397.20" y="200.10" text-anchor="end">-500</text>
<text x="397.20" y="175.87" text-anchor="end">0</text>
<text x="397.20" y="151.64" text-anchor="end">500</text>
<text x="397.20" y="127.41" text-anchor="end">1000</text>
<text x="397.20" y="103.17" text-anchor="end">1500</text>
<text x="397.20" y="78.94" text-anchor="end">2000</text>
<text x="397.20" y="54.71" text-anchor="end">2500</text>
<text x="397.20" y="30.48" text-anchor="end">3000</text>
<text x="397.20" y="6.25" text-anchor="end">3500</text>
</g>
<g font-family='"Liberation Sans", Arial, Helvetica, sans-serif' font-weight="bold" font-size="10.65" fill="#1a1a1a" stroke="#1a1a1a" stroke-width="0.2" text-anchor="middle">
<text x="540.10" y="218.30">Time(Years)</text>
<text transform="translate(374.10 100.38) rotate(-90)">TB treated individuals</text>
</g>
<text x="540.90" y="241.60" letter-spacing="0.25" text-anchor="middle" font-family='"Liberation Serif", "Times New Roman", serif' font-size="13.9" fill="#1a1a1a" stroke="#1a1a1a" stroke-width="0.12">(h)</text>
<rect x="603.65" y="9.5" width="62.85" height="58.78" fill="#fff" stroke="#8c8c8c" stroke-width="1.0"/>
<path d="M608.3 16.5H631.7" stroke="#D9821E" stroke-width="1.7" fill="none"/>
<text x="633.6" y="19.75" font-family='"Liberation Sans", Arial, Helvetica, sans-serif' font-size="7.7" fill="#1a1a1a"><tspan font-family='"Liberation Serif", "Times New Roman", serif' font-size="8.6">α</tspan><tspan dx="0.5" font-weight="bold" stroke="#1a1a1a" stroke-width="0.2"> = 0.80</tspan></text>
<path d="M608.3 27.7H631.7" stroke="#FDD420" stroke-width="1.7" fill="none"/>
<text x="633.6" y="30.95" font-family='"Liberation Sans", Arial, Helvetica, sans-serif' font-size="7.7" fill="#1a1a1a"><tspan font-family='"Liberation Serif", "Times New Roman", serif' font-size="8.6">α</tspan><tspan dx="0.5" font-weight="bold" stroke="#1a1a1a" stroke-width="0.2"> = 0.85</tspan></text>
<path d="M608.3 39.0H631.7" stroke="#1CBEC0" stroke-width="1.7" fill="none"/>
<text x="633.6" y="42.25" font-family='"Liberation Sans", Arial, Helvetica, sans-serif' font-size="7.7" fill="#1a1a1a"><tspan font-family='"Liberation Serif", "Times New Roman", serif' font-size="8.6">α</tspan><tspan dx="0.5" font-weight="bold" stroke="#1a1a1a" stroke-width="0.2"> = 0.90</tspan></text>
<path d="M608.3 50.3H631.7" stroke="#FF9AC9" stroke-width="1.7" fill="none"/>
<text x="633.6" y="53.55" font-family='"Liberation Sans", Arial, Helvetica, sans-serif' font-size="7.7" fill="#1a1a1a"><tspan font-family='"Liberation Serif", "Times New Roman", serif' font-size="8.6">α</tspan><tspan dx="0.5" font-weight="bold" stroke="#1a1a1a" stroke-width="0.2"> = 0.95</tspan></text>
<path d="M608.3 61.45H631.7" stroke="#A51C3E" stroke-width="1.7" fill="none"/>
<text x="633.6" y="64.70" font-family='"Liberation Sans", Arial, Helvetica, sans-serif' font-size="7.7" fill="#1a1a1a"><tspan font-family='"Liberation Serif", "Times New Roman", serif' font-size="8.6">α</tspan><tspan dx="0.5" font-weight="bold" stroke="#1a1a1a" stroke-width="0.2"> = 1.00</tspan></text>
</g>
<g id="plot-i">
<rect x="241.3" y="275.45" width="281.20" height="193.90" fill="#fff"/>
<path d="M269.42 275.45V469.35M297.54 275.45V469.35M325.66 275.45V469.35M353.78 275.45V469.35M381.90 275.45V469.35M410.02 275.45V469.35M438.14 275.45V469.35M466.26 275.45V469.35M494.38 275.45V469.35M241.3 441.65H522.5M241.3 413.95H522.5M241.3 386.25H522.5M241.3 358.55H522.5M241.3 330.85H522.5M241.3 303.15H522.5" stroke="#e2e2e2" stroke-width="0.55" fill="none"/>
<clipPath id="clip-i"><rect x="241.0" y="275.45" width="281.80" height="193.90"/></clipPath>
<g clip-path="url(#clip-i)" fill="none" stroke-width="1.7" stroke-linejoin="round" stroke-linecap="butt">
<path d="M241.50 461.00L241.56 460.00L241.63 459.00L241.70 458.00L241.76 457.01L241.83 456.01L241.90 455.01L241.97 454.01L242.04 453.02L242.11 452.02L242.19 451.02L242.26 450.02L242.34 449.03L242.42 448.03L242.50 447.03L242.58 446.03L242.66 445.04L242.74 444.04L242.83 443.04L242.91 442.05L243.00 441.05L243.08 440.06L243.17 439.06L243.26 438.06L243.35 437.07L243.44 436.07L243.53 435.08L243.62 434.08L243.72 433.09L243.81 432.09L243.91 431.10L244.00 430.10L244.10 429.11L244.20 428.11L244.30 427.12L244.40 426.12L244.51 425.13L244.62 424.13L244.73 423.14L244.85 422.15L244.96 421.15L245.08 420.16L245.20 419.17L245.32 418.18L245.44 417.18L245.56 416.19L245.69 415.20L245.81 414.20L245.93 413.21L246.05 412.22L246.18 411.23L246.29 410.23L246.41 409.24L246.53 408.25L246.64 407.25L246.75 406.26L246.86 405.27L246.96 404.27L247.07 403.28L247.17 402.28L247.27 401.29L247.36 400.29L247.46 399.30L247.55 398.30L247.64 397.30L247.73 396.31L247.82 395.31L247.91 394.31L248.00 393.32L248.09 392.32L248.18 391.33L248.27 390.33L248.37 389.34L248.47 388.34L248.57 387.35L248.68 386.35L248.80 385.36L248.91 384.37L249.04 383.38L249.16 382.38L249.29 381.39L249.43 380.40L249.57 379.41L249.71 378.42L249.86 377.43L250.01 376.44L250.16 375.45L250.31 374.47L250.47 373.48L250.63 372.49L250.80 371.50L250.97 370.52L251.14 369.53L251.31 368.55L251.49 367.57L251.67 366.58L251.86 365.60L252.05 364.62L252.24 363.64L252.44 362.66L252.64 361.68L252.85 360.70L253.05 359.72L253.26 358.74L253.47 357.76L253.69 356.78L253.91 355.81L254.13 354.83L254.35 353.86L254.58 352.88L254.81 351.91L255.05 350.93L255.29 349.96L255.54 349.00L255.80 348.03L256.06 347.06L256.33 346.10L256.61 345.15L256.90 344.19L257.20 343.24L257.51 342.29L257.83 341.35L258.16 340.41L258.50 339.47L258.85 338.53L259.21 337.60L259.57 336.66L259.93 335.73L260.30 334.80L260.67 333.87L261.03 332.93L261.40 332.00L261.75 331.07L262.11 330.13L262.46 329.19L262.81 328.25L263.16 327.31L263.51 326.38L263.87 325.44L264.23 324.51L264.61 323.59L265.00 322.67L265.41 321.76L265.83 320.85L266.27 319.96L266.72 319.07L267.19 318.19L267.68 317.31L268.18 316.45L268.69 315.59L269.22 314.74L269.77 313.91L270.33 313.08L270.90 312.26L271.48 311.45L272.07 310.64L272.68 309.85L273.28 309.05L273.90 308.26L274.52 307.47L275.14 306.69L275.77 305.91L276.41 305.14L277.05 304.38L277.71 303.63L278.38 302.89L279.06 302.16L279.76 301.44L280.46 300.73L281.18 300.04L281.91 299.36L282.65 298.69L283.41 298.03L284.17 297.39L284.95 296.76L285.74 296.15L286.55 295.56L287.36 294.99L288.19 294.43L289.04 293.89L289.89 293.38L290.75 292.88L291.63 292.41L292.52 291.96L293.42 291.53L294.33 291.11L295.25 290.72L296.17 290.34L297.10 289.97L298.04 289.61L298.98 289.27L299.92 288.94L300.86 288.61L301.81 288.30L302.77 287.99L303.72 287.69L304.68 287.41L305.64 287.13L306.60 286.86L307.57 286.60L308.53 286.34L309.50 286.09L310.47 285.85L311.45 285.62L312.42 285.39L313.39 285.17L314.37 284.95L315.35 284.73L316.33 284.52L317.31 284.31L318.28 284.10L319.27 283.90L320.25 283.71L321.23 283.52L322.21 283.35L323.20 283.19L324.19 283.04L325.18 282.90L326.16 282.78L327.16 282.66L328.15 282.56L329.14 282.46L330.14 282.37L331.13 282.28L332.13 282.20L333.13 282.13L334.13 282.06L335.13 281.99L336.13 281.93L337.12 281.87L338.12 281.81L339.12 281.76L340.12 281.71L341.12 281.66L342.12 281.61L343.12 281.57L344.12 281.52L345.12 281.48L346.12 281.45L347.12 281.42L348.12 281.39L349.12 281.37L350.12 281.35L351.12 281.33L352.12 281.32L353.11 281.32L354.11 281.31L355.11 281.32L356.11 281.32L357.11 281.32L358.11 281.33L359.11 281.34L360.11 281.35L361.11 281.36L362.11 281.38L363.11 281.39L364.11 281.41L365.11 281.43L366.11 281.46L367.11 281.48L368.11 281.51L369.11 281.54L370.11 281.57L371.11 281.60L372.11 281.64L373.11 281.67L374.11 281.71L375.10 281.75L376.10 281.80L377.10 281.84L378.10 281.89L379.10 281.94L380.10 281.99L381.10 282.04L382.09 282.10L383.09 282.15L384.09 282.21L385.09 282.27L386.09 282.34L387.08 282.40L388.08 282.47L389.08 282.54L390.08 282.60L391.07 282.68L392.07 282.75L393.07 282.82L394.07 282.90L395.06 282.97L396.06 283.05L397.06 283.13L398.05 283.21L399.05 283.29L400.05 283.37L401.04 283.45L402.04 283.53L403.04 283.61L404.03 283.70L405.03 283.78L406.03 283.86L407.02 283.94L408.02 284.03L409.02 284.11L410.01 284.19L411.01 284.28L412.01 284.36L413.00 284.44L414.00 284.53L415.00 284.61L415.99 284.69L416.99 284.77L417.99 284.86L418.98 284.94L419.98 285.02L420.98 285.11L421.97 285.19L422.97 285.28L423.97 285.36L424.96 285.44L425.96 285.53L426.96 285.61L427.95 285.70L428.95 285.78L429.94 285.87L430.94 285.95L431.94 286.04L432.93 286.13L433.93 286.21L434.93 286.30L435.92 286.39L436.92 286.47L437.91 286.56L438.91 286.65L439.91 286.74L440.90 286.83L441.90 286.91L442.89 287.00L443.89 287.09L444.89 287.18L445.88 287.27L446.88 287.36L447.87 287.45L448.87 287.55L449.87 287.64L450.86 287.73L451.86 287.82L452.85 287.91L453.85 288.01L454.84 288.10L455.84 288.19L456.84 288.29L457.83 288.38L458.83 288.48L459.82 288.57L460.82 288.67L461.81 288.76L462.81 288.86L463.80 288.95L464.80 289.05L465.79 289.15L466.79 289.25L467.78 289.35L468.78 289.44L469.78 289.54L470.77 289.64L471.77 289.74L472.76 289.84L473.75 289.94L474.75 290.04L475.74 290.15L476.74 290.25L477.73 290.35L478.73 290.45L479.72 290.55L480.72 290.66L481.71 290.76L482.71 290.86L483.70 290.97L484.70 291.07L485.69 291.18L486.69 291.28L487.68 291.38L488.68 291.49L489.67 291.59L490.66 291.70L491.66 291.80L492.65 291.91L493.65 292.01L494.64 292.12L495.64 292.22L496.63 292.33L497.62 292.43L498.62 292.54L499.61 292.64L500.60 292.75L501.59 292.85L502.59 292.96L503.58 293.07L504.57 293.17L505.56 293.28L506.54 293.38L507.53 293.49L508.51 293.59L509.49 293.70L510.47 293.80L511.45 293.91L512.42 294.01L513.40 294.12L514.36 294.22L515.33 294.33L516.29 294.43L517.25 294.53L518.21 294.64L519.17 294.74L520.12 294.84L521.07 294.95L522.02 295.05L522.50 295.10" stroke="#D9821E"/>
<path d="M241.50 461.00L241.57 460.00L241.64 459.00L241.72 458.01L241.79 457.01L241.87 456.01L241.94 455.01L242.02 454.02L242.09 453.02L242.17 452.02L242.25 451.03L242.33 450.03L242.41 449.03L242.49 448.04L242.58 447.04L242.66 446.04L242.74 445.05L242.83 444.05L242.92 443.05L243.00 442.06L243.09 441.06L243.18 440.06L243.27 439.07L243.36 438.07L243.45 437.08L243.54 436.08L243.63 435.09L243.72 434.09L243.82 433.09L243.91 432.10L244.01 431.10L244.10 430.11L244.20 429.11L244.30 428.12L244.39 427.12L244.50 426.13L244.60 425.13L244.70 424.14L244.81 423.15L244.92 422.15L245.03 421.16L245.14 420.16L245.25 419.17L245.36 418.18L245.48 417.18L245.59 416.19L245.71 415.20L245.82 414.20L245.93 413.21L246.05 412.22L246.16 411.22L246.27 410.23L246.38 409.23L246.49 408.24L246.60 407.25L246.71 406.25L246.81 405.26L246.92 404.26L247.02 403.27L247.12 402.27L247.22 401.28L247.31 400.28L247.41 399.29L247.50 398.29L247.59 397.29L247.67 396.30L247.76 395.30L247.84 394.30L247.93 393.31L248.02 392.31L248.10 391.32L248.19 390.32L248.29 389.32L248.38 388.33L248.48 387.33L248.59 386.34L248.69 385.35L248.81 384.35L248.92 383.36L249.04 382.37L249.17 381.38L249.30 380.38L249.43 379.39L249.57 378.40L249.71 377.41L249.85 376.42L249.99 375.43L250.14 374.44L250.29 373.45L250.44 372.46L250.60 371.48L250.75 370.49L250.91 369.50L251.08 368.52L251.25 367.53L251.42 366.55L251.59 365.56L251.77 364.58L251.95 363.59L252.13 362.61L252.31 361.62L252.50 360.64L252.68 359.66L252.87 358.68L253.06 357.69L253.25 356.71L253.44 355.73L253.64 354.75L253.83 353.77L254.03 352.78L254.23 351.80L254.44 350.82L254.65 349.85L254.86 348.87L255.09 347.90L255.31 346.92L255.55 345.95L255.80 344.99L256.05 344.02L256.32 343.06L256.60 342.11L256.89 341.15L257.19 340.20L257.50 339.25L257.82 338.30L258.14 337.35L258.47 336.41L258.80 335.46L259.13 334.51L259.45 333.57L259.77 332.62L260.08 331.67L260.39 330.71L260.68 329.76L260.98 328.80L261.26 327.84L261.55 326.88L261.83 325.93L262.12 324.97L262.41 324.01L262.71 323.06L263.02 322.11L263.33 321.16L263.66 320.21L264.00 319.27L264.35 318.33L264.72 317.40L265.10 316.48L265.49 315.56L265.91 314.66L266.34 313.76L266.79 312.87L267.26 311.99L267.75 311.12L268.25 310.26L268.77 309.41L269.30 308.56L269.84 307.71L270.39 306.88L270.95 306.04L271.51 305.22L272.09 304.40L272.67 303.59L273.27 302.79L273.88 301.99L274.50 301.21L275.14 300.44L275.79 299.69L276.46 298.94L277.14 298.22L277.85 297.51L278.57 296.82L279.31 296.15L280.07 295.51L280.85 294.90L281.65 294.31L282.48 293.75L283.32 293.21L284.17 292.70L285.05 292.22L285.93 291.76L286.83 291.33L287.74 290.92L288.67 290.54L289.60 290.18L290.54 289.85L291.48 289.54L292.44 289.25L293.40 288.98L294.37 288.73L295.34 288.48L296.31 288.24L297.28 288.01L298.25 287.77L299.23 287.53L300.20 287.30L301.17 287.06L302.15 286.83L303.12 286.61L304.10 286.40L305.07 286.20L306.06 286.01L307.04 285.84L308.02 285.68L309.01 285.53L310.00 285.39L310.99 285.26L311.99 285.14L312.98 285.03L313.98 284.93L314.97 284.83L315.97 284.74L316.96 284.66L317.96 284.58L318.96 284.51L319.96 284.45L320.96 284.39L321.95 284.34L322.95 284.30L323.95 284.27L324.95 284.25L325.95 284.25L326.95 284.25L327.95 284.25L328.95 284.27L329.95 284.29L330.95 284.32L331.95 284.35L332.95 284.39L333.95 284.43L334.95 284.47L335.95 284.51L336.95 284.56L337.94 284.61L338.94 284.66L339.94 284.71L340.94 284.76L341.94 284.82L342.94 284.88L343.94 284.94L344.93 285.00L345.93 285.07L346.93 285.14L347.93 285.21L348.92 285.28L349.92 285.35L350.92 285.43L351.91 285.51L352.91 285.59L353.91 285.67L354.90 285.75L355.90 285.84L356.90 285.93L357.89 286.01L358.89 286.10L359.88 286.20L360.88 286.29L361.88 286.38L362.87 286.48L363.87 286.57L364.86 286.67L365.86 286.77L366.85 286.87L367.85 286.97L368.84 287.08L369.84 287.18L370.83 287.29L371.82 287.40L372.82 287.51L373.81 287.62L374.81 287.73L375.80 287.84L376.79 287.96L377.79 288.08L378.78 288.19L379.77 288.31L380.76 288.43L381.76 288.55L382.75 288.68L383.74 288.80L384.73 288.93L385.72 289.06L386.72 289.18L387.71 289.31L388.70 289.45L389.69 289.58L390.68 289.71L391.67 289.85L392.66 289.99L393.65 290.12L394.64 290.26L395.63 290.40L396.62 290.54L397.61 290.68L398.60 290.83L399.59 290.97L400.58 291.11L401.57 291.26L402.56 291.40L403.55 291.55L404.54 291.70L405.53 291.84L406.52 291.99L407.51 292.14L408.50 292.28L409.49 292.43L410.47 292.58L411.46 292.73L412.45 292.88L413.44 293.03L414.43 293.18L415.42 293.33L416.41 293.48L417.40 293.63L418.38 293.78L419.37 293.93L420.36 294.08L421.35 294.24L422.34 294.39L423.33 294.54L424.31 294.69L425.30 294.85L426.29 295.00L427.28 295.15L428.27 295.31L429.26 295.46L430.24 295.61L431.23 295.77L432.22 295.92L433.21 296.08L434.20 296.23L435.18 296.39L436.17 296.54L437.16 296.70L438.15 296.85L439.14 297.01L440.12 297.16L441.11 297.32L442.10 297.48L443.09 297.63L444.07 297.79L445.06 297.94L446.05 298.10L447.04 298.26L448.03 298.41L449.01 298.57L450.00 298.72L450.99 298.88L451.98 299.03L452.96 299.19L453.95 299.34L454.94 299.50L455.93 299.65L456.92 299.81L457.90 299.96L458.89 300.11L459.88 300.26L460.87 300.41L461.86 300.56L462.85 300.71L463.84 300.86L464.83 301.01L465.81 301.16L466.80 301.30L467.79 301.45L468.78 301.59L469.77 301.74L470.76 301.88L471.75 302.02L472.74 302.16L473.73 302.30L474.72 302.45L475.71 302.58L476.70 302.72L477.69 302.86L478.68 303.00L479.67 303.14L480.66 303.28L481.65 303.42L482.64 303.56L483.63 303.69L484.62 303.83L485.61 303.97L486.61 304.11L487.60 304.25L488.59 304.39L489.58 304.53L490.57 304.67L491.56 304.81L492.55 304.95L493.54 305.09L494.53 305.23L495.52 305.37L496.51 305.51L497.49 305.66L498.48 305.80L499.47 305.94L500.46 306.09L501.45 306.23L502.44 306.38L503.43 306.52L504.41 306.67L505.40 306.81L506.39 306.96L507.37 307.11L508.36 307.26L509.34 307.40L510.32 307.55L511.30 307.70L512.28 307.85L513.26 307.99L514.24 308.14L515.21 308.29L516.19 308.44L517.16 308.59L518.13 308.73L519.10 308.88L520.08 309.03L521.05 309.18L522.02 309.33L522.50 309.40" stroke="#FDD420"/>
<path d="M241.50 461.00L241.58 460.00L241.66 459.01L241.74 458.01L241.82 457.01L241.90 456.02L241.98 455.02L242.06 454.02L242.15 453.03L242.23 452.03L242.31 451.03L242.40 450.04L242.48 449.04L242.57 448.04L242.66 447.05L242.74 446.05L242.83 445.05L242.92 444.06L243.01 443.06L243.10 442.07L243.19 441.07L243.28 440.07L243.37 439.08L243.46 438.08L243.55 437.09L243.64 436.09L243.73 435.10L243.82 434.10L243.92 433.10L244.01 432.11L244.11 431.11L244.20 430.12L244.30 429.12L244.39 428.13L244.49 427.13L244.59 426.14L244.69 425.14L244.79 424.15L244.89 423.15L244.99 422.16L245.09 421.16L245.20 420.17L245.30 419.17L245.41 418.18L245.51 417.18L245.62 416.19L245.72 415.20L245.83 414.20L245.94 413.21L246.04 412.21L246.15 411.22L246.25 410.22L246.36 409.23L246.46 408.23L246.57 407.24L246.67 406.25L246.77 405.25L246.87 404.26L246.97 403.26L247.07 402.27L247.17 401.27L247.26 400.27L247.36 399.28L247.45 398.28L247.54 397.29L247.63 396.29L247.71 395.29L247.80 394.30L247.89 393.30L247.97 392.31L248.06 391.31L248.15 390.31L248.24 389.32L248.34 388.32L248.43 387.33L248.53 386.33L248.64 385.34L248.74 384.34L248.85 383.35L248.97 382.36L249.08 381.36L249.20 380.37L249.32 379.38L249.45 378.39L249.58 377.39L249.71 376.40L249.84 375.41L249.97 374.42L250.11 373.43L250.25 372.44L250.39 371.45L250.54 370.46L250.69 369.47L250.84 368.48L250.99 367.50L251.15 366.51L251.31 365.52L251.47 364.53L251.64 363.55L251.80 362.56L251.97 361.58L252.14 360.59L252.31 359.60L252.48 358.62L252.65 357.63L252.82 356.65L253.00 355.66L253.17 354.68L253.35 353.69L253.52 352.71L253.70 351.72L253.88 350.74L254.07 349.76L254.25 348.77L254.45 347.79L254.64 346.81L254.84 345.83L255.04 344.85L255.25 343.88L255.47 342.90L255.69 341.93L255.92 340.95L256.15 339.98L256.39 339.01L256.63 338.04L256.87 337.07L257.12 336.10L257.37 335.13L257.63 334.17L257.88 333.20L258.14 332.23L258.40 331.26L258.66 330.30L258.92 329.33L259.18 328.37L259.45 327.40L259.72 326.44L259.99 325.48L260.27 324.52L260.56 323.56L260.85 322.60L261.14 321.65L261.45 320.70L261.76 319.75L262.08 318.80L262.41 317.85L262.74 316.91L263.09 315.97L263.45 315.04L263.82 314.11L264.20 313.19L264.59 312.27L264.99 311.35L265.41 310.44L265.83 309.54L266.27 308.64L266.73 307.75L267.19 306.87L267.67 305.99L268.17 305.12L268.68 304.26L269.20 303.41L269.74 302.57L270.30 301.74L270.87 300.92L271.45 300.11L272.06 299.31L272.68 298.53L273.32 297.77L273.99 297.04L274.68 296.33L275.41 295.64L276.15 294.99L276.93 294.38L277.74 293.80L278.57 293.25L279.42 292.74L280.29 292.26L281.18 291.82L282.08 291.40L283.00 291.01L283.93 290.65L284.87 290.31L285.82 290.00L286.77 289.71L287.73 289.45L288.70 289.20L289.68 288.98L290.65 288.76L291.63 288.57L292.62 288.38L293.60 288.21L294.59 288.04L295.58 287.89L296.57 287.75L297.56 287.63L298.55 287.51L299.54 287.40L300.54 287.30L301.54 287.21L302.53 287.13L303.53 287.07L304.53 287.03L305.53 286.99L306.53 286.98L307.52 286.98L308.52 286.99L309.52 287.02L310.52 287.06L311.52 287.11L312.52 287.16L313.52 287.23L314.51 287.30L315.51 287.38L316.50 287.47L317.50 287.56L318.49 287.67L319.49 287.79L320.48 287.91L321.47 288.04L322.46 288.17L323.45 288.31L324.44 288.46L325.43 288.61L326.42 288.76L327.41 288.92L328.39 289.08L329.38 289.24L330.37 289.41L331.35 289.59L332.33 289.76L333.32 289.94L334.30 290.13L335.28 290.31L336.27 290.50L337.25 290.68L338.23 290.87L339.22 291.05L340.20 291.24L341.18 291.42L342.17 291.61L343.15 291.79L344.13 291.98L345.11 292.17L346.10 292.35L347.08 292.54L348.06 292.73L349.04 292.91L350.03 293.10L351.01 293.29L351.99 293.47L352.97 293.66L353.96 293.84L354.94 294.03L355.92 294.21L356.90 294.40L357.89 294.58L358.87 294.77L359.85 294.96L360.83 295.14L361.82 295.33L362.80 295.51L363.78 295.70L364.77 295.88L365.75 296.07L366.73 296.25L367.71 296.44L368.70 296.62L369.68 296.81L370.66 296.99L371.64 297.18L372.63 297.37L373.61 297.55L374.59 297.74L375.57 297.92L376.56 298.11L377.54 298.30L378.52 298.49L379.50 298.67L380.49 298.86L381.47 299.05L382.45 299.24L383.43 299.42L384.41 299.61L385.40 299.80L386.38 299.99L387.36 300.18L388.34 300.37L389.32 300.56L390.31 300.75L391.29 300.94L392.27 301.13L393.25 301.32L394.23 301.51L395.21 301.70L396.19 301.90L397.18 302.09L398.16 302.28L399.14 302.47L400.12 302.66L401.10 302.86L402.08 303.05L403.06 303.24L404.05 303.43L405.03 303.63L406.01 303.82L406.99 304.01L407.97 304.21L408.95 304.40L409.93 304.59L410.91 304.79L411.89 304.98L412.88 305.18L413.86 305.37L414.84 305.56L415.82 305.76L416.80 305.95L417.78 306.15L418.76 306.34L419.74 306.54L420.72 306.74L421.70 306.93L422.68 307.13L423.66 307.32L424.64 307.52L425.62 307.72L426.61 307.91L427.59 308.11L428.57 308.31L429.55 308.50L430.53 308.70L431.51 308.90L432.49 309.09L433.47 309.29L434.45 309.49L435.43 309.69L436.41 309.88L437.39 310.08L438.37 310.28L439.35 310.48L440.33 310.68L441.31 310.88L442.29 311.07L443.27 311.27L444.25 311.47L445.23 311.67L446.21 311.87L447.19 312.07L448.17 312.27L449.15 312.47L450.13 312.67L451.11 312.87L452.09 313.07L453.07 313.27L454.05 313.47L455.03 313.66L456.01 313.86L456.99 314.06L457.97 314.26L458.95 314.46L459.93 314.66L460.91 314.86L461.89 315.06L462.87 315.26L463.85 315.46L464.83 315.65L465.81 315.85L466.79 316.05L467.77 316.25L468.75 316.45L469.73 316.64L470.71 316.84L471.69 317.04L472.67 317.24L473.65 317.43L474.63 317.63L475.61 317.83L476.59 318.02L477.57 318.22L478.55 318.42L479.53 318.61L480.51 318.81L481.50 319.01L482.48 319.20L483.46 319.40L484.44 319.59L485.42 319.79L486.40 319.99L487.38 320.18L488.36 320.38L489.34 320.57L490.32 320.77L491.30 320.96L492.28 321.16L493.26 321.35L494.24 321.54L495.23 321.74L496.21 321.93L497.19 322.13L498.17 322.32L499.15 322.52L500.13 322.71L501.11 322.90L502.09 323.10L503.07 323.29L504.05 323.48L505.03 323.67L506.01 323.87L506.98 324.06L507.96 324.25L508.94 324.44L509.91 324.64L510.89 324.83L511.86 325.02L512.83 325.21L513.80 325.40L514.77 325.59L515.74 325.78L516.71 325.97L517.68 326.16L518.64 326.35L519.61 326.53L520.57 326.72L521.54 326.91L522.50 327.10" stroke="#1CBEC0"/>
<path d="M241.50 461.00L241.58 460.00L241.67 459.01L241.75 458.01L241.83 457.01L241.92 456.02L242.00 455.02L242.09 454.02L242.17 453.03L242.26 452.03L242.34 451.04L242.43 450.04L242.52 449.04L242.60 448.05L242.69 447.05L242.78 446.05L242.87 445.06L242.96 444.06L243.05 443.07L243.14 442.07L243.23 441.07L243.32 440.08L243.41 439.08L243.50 438.09L243.60 437.09L243.69 436.10L243.78 435.10L243.87 434.10L243.97 433.11L244.06 432.11L244.15 431.12L244.25 430.12L244.35 429.13L244.44 428.13L244.54 427.14L244.64 426.14L244.74 425.15L244.84 424.15L244.94 423.16L245.04 422.16L245.14 421.17L245.24 420.17L245.35 419.18L245.45 418.18L245.56 417.19L245.66 416.19L245.77 415.20L245.87 414.20L245.97 413.21L246.08 412.21L246.18 411.22L246.28 410.23L246.38 409.23L246.48 408.24L246.58 407.24L246.67 406.24L246.77 405.25L246.86 404.25L246.95 403.26L247.04 402.26L247.13 401.27L247.22 400.27L247.31 399.27L247.40 398.28L247.49 397.28L247.57 396.29L247.66 395.29L247.75 394.29L247.83 393.30L247.92 392.30L248.01 391.30L248.10 390.31L248.19 389.31L248.29 388.32L248.38 387.32L248.48 386.33L248.58 385.33L248.68 384.34L248.78 383.34L248.89 382.35L249.00 381.35L249.11 380.36L249.22 379.37L249.33 378.37L249.45 377.38L249.56 376.39L249.68 375.39L249.81 374.40L249.93 373.41L250.06 372.42L250.19 371.43L250.32 370.43L250.46 369.44L250.60 368.45L250.74 367.46L250.89 366.47L251.03 365.49L251.18 364.50L251.33 363.51L251.48 362.52L251.63 361.53L251.78 360.54L251.94 359.55L252.09 358.56L252.24 357.58L252.39 356.59L252.54 355.60L252.69 354.61L252.84 353.62L252.99 352.63L253.14 351.64L253.29 350.65L253.45 349.67L253.61 348.68L253.77 347.69L253.94 346.71L254.12 345.72L254.29 344.74L254.48 343.76L254.67 342.78L254.86 341.80L255.07 340.82L255.27 339.84L255.49 338.86L255.70 337.89L255.92 336.91L256.14 335.94L256.37 334.96L256.59 333.99L256.82 333.01L257.04 332.04L257.26 331.06L257.49 330.09L257.71 329.11L257.93 328.13L258.15 327.16L258.37 326.18L258.59 325.21L258.82 324.23L259.04 323.26L259.27 322.28L259.49 321.31L259.72 320.34L259.95 319.36L260.19 318.39L260.43 317.42L260.67 316.45L260.91 315.48L261.17 314.51L261.44 313.55L261.72 312.59L262.02 311.64L262.34 310.69L262.67 309.75L263.03 308.82L263.40 307.89L263.79 306.97L264.20 306.06L264.63 305.16L265.08 304.27L265.54 303.38L266.03 302.51L266.54 301.66L267.08 300.82L267.64 299.99L268.23 299.19L268.84 298.40L269.48 297.64L270.15 296.91L270.85 296.21L271.58 295.54L272.35 294.90L273.14 294.31L273.96 293.76L274.80 293.25L275.68 292.79L276.58 292.38L277.50 292.00L278.43 291.67L279.38 291.37L280.34 291.10L281.31 290.85L282.28 290.64L283.26 290.45L284.24 290.29L285.23 290.15L286.22 290.03L287.22 289.94L288.21 289.88L289.21 289.83L290.21 289.80L291.21 289.80L292.20 289.81L293.20 289.84L294.20 289.89L295.20 289.96L296.19 290.04L297.19 290.14L298.18 290.25L299.17 290.37L300.16 290.51L301.15 290.66L302.14 290.83L303.12 291.00L304.10 291.19L305.08 291.39L306.06 291.59L307.04 291.80L308.01 292.03L308.99 292.26L309.96 292.49L310.93 292.74L311.90 292.99L312.87 293.24L313.83 293.49L314.80 293.74L315.77 293.99L316.74 294.24L317.71 294.49L318.68 294.74L319.65 294.99L320.61 295.24L321.58 295.49L322.55 295.74L323.52 295.99L324.49 296.24L325.45 296.49L326.42 296.75L327.39 297.00L328.35 297.26L329.32 297.52L330.29 297.78L331.25 298.04L332.22 298.30L333.18 298.56L334.15 298.82L335.11 299.08L336.08 299.34L337.04 299.60L338.01 299.86L338.97 300.12L339.94 300.38L340.91 300.65L341.87 300.91L342.84 301.17L343.80 301.43L344.77 301.69L345.73 301.95L346.70 302.21L347.66 302.47L348.63 302.73L349.59 302.99L350.56 303.25L351.53 303.50L352.49 303.76L353.46 304.02L354.43 304.27L355.39 304.53L356.36 304.78L357.33 305.04L358.29 305.29L359.26 305.54L360.23 305.80L361.20 306.05L362.16 306.30L363.13 306.56L364.10 306.81L365.07 307.06L366.04 307.31L367.00 307.56L367.97 307.82L368.94 308.07L369.91 308.32L370.87 308.57L371.84 308.82L372.81 309.07L373.78 309.32L374.75 309.58L375.71 309.83L376.68 310.08L377.65 310.33L378.62 310.58L379.59 310.83L380.55 311.09L381.52 311.34L382.49 311.59L383.46 311.84L384.42 312.10L385.39 312.35L386.36 312.60L387.33 312.86L388.29 313.11L389.26 313.37L390.23 313.62L391.19 313.87L392.16 314.13L393.13 314.38L394.10 314.63L395.06 314.89L396.03 315.14L397.00 315.40L397.96 315.65L398.93 315.90L399.90 316.16L400.87 316.41L401.83 316.66L402.80 316.91L403.77 317.17L404.74 317.42L405.71 317.67L406.67 317.92L407.64 318.17L408.61 318.42L409.58 318.67L410.55 318.92L411.51 319.17L412.48 319.42L413.45 319.67L414.42 319.92L415.39 320.16L416.36 320.41L417.33 320.66L418.30 320.90L419.27 321.15L420.23 321.40L421.20 321.64L422.17 321.89L423.14 322.13L424.11 322.38L425.08 322.62L426.05 322.87L427.02 323.11L427.99 323.36L428.96 323.60L429.93 323.85L430.90 324.09L431.87 324.33L432.84 324.58L433.81 324.82L434.78 325.07L435.75 325.31L436.72 325.55L437.69 325.80L438.66 326.04L439.63 326.29L440.60 326.53L441.57 326.77L442.54 327.02L443.51 327.26L444.48 327.51L445.45 327.75L446.42 327.99L447.39 328.24L448.36 328.48L449.33 328.72L450.30 328.97L451.27 329.21L452.24 329.45L453.21 329.70L454.18 329.94L455.15 330.18L456.12 330.42L457.09 330.66L458.06 330.90L459.03 331.14L460.00 331.38L460.97 331.62L461.94 331.86L462.91 332.10L463.89 332.34L464.86 332.57L465.83 332.81L466.80 333.04L467.77 333.28L468.74 333.51L469.72 333.75L470.69 333.98L471.66 334.22L472.63 334.45L473.61 334.68L474.58 334.91L475.55 335.14L476.52 335.37L477.50 335.61L478.47 335.84L479.44 336.07L480.42 336.30L481.39 336.52L482.36 336.75L483.34 336.98L484.31 337.21L485.28 337.44L486.26 337.67L487.23 337.90L488.20 338.13L489.18 338.35L490.15 338.58L491.13 338.81L492.10 339.04L493.07 339.27L494.05 339.50L495.02 339.73L495.99 339.96L496.97 340.18L497.94 340.41L498.91 340.64L499.88 340.87L500.86 341.10L501.83 341.33L502.80 341.56L503.77 341.79L504.74 342.02L505.71 342.24L506.68 342.47L507.65 342.70L508.62 342.93L509.59 343.16L510.55 343.38L511.51 343.61L512.48 343.84L513.44 344.06L514.40 344.29L515.36 344.52L516.31 344.74L517.27 344.97L518.22 345.19L519.17 345.42L520.12 345.64L521.07 345.86L522.02 346.09L522.50 346.20" stroke="#FF9AC9"/>
<path d="M241.50 461.00L241.59 460.00L241.67 459.01L241.76 458.01L241.85 457.01L241.93 456.02L242.02 455.02L242.11 454.03L242.19 453.03L242.28 452.03L242.37 451.04L242.46 450.04L242.55 449.05L242.64 448.05L242.73 447.05L242.82 446.06L242.91 445.06L243.00 444.07L243.09 443.07L243.18 442.07L243.27 441.08L243.37 440.08L243.46 439.09L243.55 438.09L243.64 437.10L243.74 436.10L243.83 435.10L243.92 434.11L244.02 433.11L244.11 432.12L244.20 431.12L244.30 430.13L244.39 429.13L244.49 428.14L244.59 427.14L244.69 426.15L244.78 425.15L244.88 424.16L244.99 423.16L245.09 422.17L245.19 421.17L245.29 420.18L245.40 419.18L245.50 418.19L245.60 417.19L245.70 416.20L245.81 415.20L245.91 414.21L246.01 413.21L246.11 412.22L246.21 411.22L246.31 410.23L246.40 409.23L246.50 408.24L246.59 407.24L246.68 406.24L246.77 405.25L246.85 404.25L246.94 403.26L247.02 402.26L247.10 401.26L247.18 400.27L247.26 399.27L247.34 398.27L247.43 397.28L247.51 396.28L247.59 395.28L247.67 394.29L247.76 393.29L247.84 392.29L247.93 391.30L248.01 390.30L248.10 389.30L248.19 388.31L248.28 387.31L248.38 386.32L248.47 385.32L248.57 384.33L248.67 383.33L248.77 382.34L248.87 381.34L248.97 380.35L249.07 379.35L249.18 378.36L249.29 377.36L249.40 376.37L249.51 375.38L249.63 374.38L249.75 373.39L249.87 372.40L249.99 371.41L250.12 370.41L250.25 369.42L250.38 368.43L250.52 367.44L250.66 366.45L250.80 365.46L250.94 364.47L251.09 363.48L251.23 362.49L251.37 361.50L251.51 360.51L251.65 359.52L251.78 358.53L251.92 357.54L252.05 356.55L252.18 355.55L252.30 354.56L252.43 353.57L252.55 352.58L252.68 351.59L252.81 350.59L252.94 349.60L253.07 348.61L253.20 347.62L253.34 346.63L253.48 345.64L253.63 344.65L253.78 343.66L253.94 342.68L254.10 341.69L254.27 340.71L254.45 339.72L254.63 338.74L254.81 337.75L254.99 336.77L255.18 335.79L255.37 334.81L255.56 333.82L255.74 332.84L255.93 331.86L256.12 330.88L256.30 329.89L256.49 328.91L256.67 327.92L256.85 326.94L257.03 325.96L257.21 324.97L257.40 323.99L257.59 323.01L257.78 322.03L257.98 321.05L258.18 320.07L258.39 319.09L258.61 318.12L258.84 317.14L259.08 316.17L259.32 315.20L259.58 314.24L259.84 313.27L260.11 312.31L260.39 311.35L260.68 310.39L260.97 309.43L261.28 308.48L261.59 307.53L261.92 306.58L262.25 305.64L262.60 304.70L262.96 303.76L263.33 302.84L263.73 301.92L264.15 301.02L264.60 300.13L265.07 299.25L265.58 298.40L266.13 297.58L266.72 296.78L267.35 296.03L268.03 295.32L268.75 294.66L269.52 294.06L270.33 293.52L271.18 293.05L272.07 292.65L272.99 292.32L273.93 292.06L274.89 291.86L275.87 291.72L276.85 291.64L277.84 291.61L278.83 291.61L279.83 291.66L280.82 291.74L281.81 291.86L282.80 291.99L283.78 292.16L284.76 292.34L285.74 292.54L286.72 292.76L287.69 292.99L288.65 293.25L289.62 293.52L290.57 293.80L291.52 294.11L292.47 294.43L293.41 294.76L294.35 295.11L295.28 295.46L296.22 295.82L297.15 296.18L298.08 296.54L299.02 296.90L299.95 297.26L300.89 297.61L301.82 297.96L302.76 298.30L303.70 298.65L304.64 298.99L305.58 299.32L306.53 299.66L307.47 299.98L308.42 300.31L309.36 300.63L310.31 300.95L311.26 301.26L312.21 301.58L313.16 301.89L314.11 302.21L315.06 302.52L316.01 302.83L316.96 303.15L317.91 303.46L318.86 303.77L319.81 304.09L320.76 304.40L321.70 304.72L322.65 305.04L323.60 305.36L324.54 305.69L325.49 306.01L326.43 306.35L327.37 306.68L328.31 307.02L329.25 307.36L330.19 307.70L331.13 308.05L332.07 308.40L333.00 308.75L333.94 309.11L334.87 309.46L335.81 309.82L336.74 310.17L337.68 310.53L338.61 310.89L339.54 311.25L340.48 311.61L341.41 311.97L342.34 312.33L343.28 312.69L344.21 313.04L345.15 313.40L346.08 313.75L347.02 314.10L347.96 314.45L348.89 314.80L349.83 315.14L350.77 315.49L351.71 315.83L352.65 316.17L353.59 316.51L354.53 316.84L355.48 317.18L356.42 317.51L357.36 317.85L358.30 318.18L359.25 318.51L360.19 318.84L361.13 319.17L362.08 319.50L363.02 319.83L363.97 320.16L364.91 320.49L365.86 320.81L366.80 321.14L367.75 321.46L368.70 321.78L369.64 322.11L370.59 322.43L371.54 322.75L372.49 323.07L373.43 323.39L374.38 323.71L375.33 324.02L376.28 324.34L377.23 324.66L378.18 324.97L379.12 325.29L380.07 325.60L381.02 325.91L381.97 326.23L382.92 326.54L383.87 326.85L384.82 327.16L385.77 327.47L386.73 327.78L387.68 328.09L388.63 328.40L389.58 328.71L390.53 329.01L391.48 329.32L392.43 329.63L393.39 329.93L394.34 330.24L395.29 330.54L396.24 330.85L397.20 331.15L398.15 331.45L399.10 331.76L400.06 332.06L401.01 332.36L401.96 332.66L402.92 332.96L403.87 333.26L404.82 333.57L405.78 333.87L406.73 334.17L407.69 334.47L408.64 334.77L409.59 335.07L410.55 335.37L411.50 335.66L412.46 335.96L413.41 336.26L414.36 336.56L415.32 336.86L416.27 337.16L417.23 337.46L418.18 337.75L419.14 338.05L420.09 338.35L421.05 338.64L422.00 338.94L422.96 339.24L423.91 339.53L424.87 339.83L425.82 340.12L426.78 340.41L427.74 340.71L428.69 341.00L429.65 341.29L430.61 341.59L431.56 341.88L432.52 342.17L433.48 342.46L434.43 342.75L435.39 343.04L436.35 343.33L437.30 343.62L438.26 343.90L439.22 344.19L440.18 344.48L441.14 344.76L442.09 345.05L443.05 345.34L444.01 345.62L444.97 345.90L445.93 346.19L446.89 346.47L447.85 346.75L448.81 347.03L449.77 347.31L450.73 347.59L451.69 347.87L452.65 348.15L453.61 348.43L454.57 348.70L455.53 348.98L456.49 349.25L457.46 349.53L458.42 349.80L459.38 350.07L460.34 350.34L461.30 350.61L462.27 350.88L463.23 351.15L464.20 351.42L465.16 351.68L466.12 351.95L467.09 352.21L468.05 352.47L469.02 352.73L469.98 352.99L470.95 353.25L471.92 353.51L472.88 353.77L473.85 354.02L474.82 354.28L475.78 354.53L476.75 354.78L477.72 355.04L478.69 355.29L479.65 355.54L480.62 355.79L481.59 356.04L482.56 356.28L483.53 356.53L484.50 356.78L485.47 357.02L486.44 357.27L487.41 357.51L488.38 357.75L489.35 358.00L490.32 358.24L491.29 358.48L492.26 358.72L493.23 358.96L494.20 359.20L495.17 359.44L496.14 359.68L497.11 359.91L498.08 360.15L499.05 360.39L500.03 360.62L501.00 360.86L501.97 361.09L502.94 361.32L503.91 361.55L504.87 361.79L505.84 362.02L506.81 362.25L507.77 362.47L508.74 362.70L509.70 362.93L510.66 363.15L511.62 363.38L512.58 363.60L513.53 363.83L514.48 364.05L515.43 364.27L516.38 364.49L517.33 364.71L518.27 364.92L519.21 365.14L520.15 365.36L521.09 365.58L522.03 365.79L522.50 365.90" stroke="#A51C3E"/>
</g>
<path d="M269.42 469.35v-2.8M269.42 275.45v2.8M297.54 469.35v-2.8M297.54 275.45v2.8M325.66 469.35v-2.8M325.66 275.45v2.8M353.78 469.35v-2.8M353.78 275.45v2.8M381.90 469.35v-2.8M381.90 275.45v2.8M410.02 469.35v-2.8M410.02 275.45v2.8M438.14 469.35v-2.8M438.14 275.45v2.8M466.26 469.35v-2.8M466.26 275.45v2.8M494.38 469.35v-2.8M494.38 275.45v2.8M241.3 441.65h2.8M522.5 441.65h-2.8M241.3 413.95h2.8M522.5 413.95h-2.8M241.3 386.25h2.8M522.5 386.25h-2.8M241.3 358.55h2.8M522.5 358.55h-2.8M241.3 330.85h2.8M522.5 330.85h-2.8M241.3 303.15h2.8M522.5 303.15h-2.8" stroke="#777777" stroke-width="0.8" fill="none"/>
<rect x="241.3" y="275.45" width="281.20" height="193.90" fill="none" stroke="#777777" stroke-width="0.95"/>
<g font-family='"Liberation Sans", Arial, Helvetica, sans-serif' font-size="7.8" fill="#1a1a1a" stroke="#1a1a1a" stroke-width="0.22">
<text x="241.30" y="478.85" text-anchor="middle">0</text>
<text x="269.42" y="478.85" text-anchor="middle">5</text>
<text x="297.54" y="478.85" text-anchor="middle">10</text>
<text x="325.66" y="478.85" text-anchor="middle">15</text>
<text x="353.78" y="478.85" text-anchor="middle">20</text>
<text x="381.90" y="478.85" text-anchor="middle">25</text>
<text x="410.02" y="478.85" text-anchor="middle">30</text>
<text x="438.14" y="478.85" text-anchor="middle">35</text>
<text x="466.26" y="478.85" text-anchor="middle">40</text>
<text x="494.38" y="478.85" text-anchor="middle">45</text>
<text x="522.50" y="478.85" text-anchor="middle">50</text>
<text x="239.10" y="472.15" text-anchor="end">0</text>
<text x="239.10" y="444.45" text-anchor="end">1000</text>
<text x="239.10" y="416.75" text-anchor="end">2000</text>
<text x="239.10" y="389.05" text-anchor="end">3000</text>
<text x="239.10" y="361.35" text-anchor="end">4000</text>
<text x="239.10" y="333.65" text-anchor="end">5000</text>
<text x="239.10" y="305.95" text-anchor="end">6000</text>
<text x="239.10" y="278.25" text-anchor="end">7000</text>
</g>
<g font-family='"Liberation Sans", Arial, Helvetica, sans-serif' font-weight="bold" font-size="10.65" fill="#1a1a1a" stroke="#1a1a1a" stroke-width="0.2" text-anchor="middle">
<text x="381.90" y="490.35">Time(Years)</text>
<text transform="translate(215.90 372.40) rotate(-90)">TB recovered individuals</text>
</g>
<text x="382.70" y="510.90" letter-spacing="0.25" text-anchor="middle" font-family='"Liberation Serif", "Times New Roman", serif' font-size="13.9" fill="#1a1a1a" stroke="#1a1a1a" stroke-width="0.12">(i)</text>
<rect x="263.5" y="392.6" width="62.0" height="59.7" fill="#fff" stroke="#8c8c8c" stroke-width="1.0"/>
<path d="M267.8 399.9H290.6" stroke="#D9821E" stroke-width="1.7" fill="none"/>
<text x="292.8" y="403.15" font-family='"Liberation Sans", Arial, Helvetica, sans-serif' font-size="7.7" fill="#1a1a1a"><tspan font-family='"Liberation Serif", "Times New Roman", serif' font-size="8.6">α</tspan><tspan dx="0.5" font-weight="bold" stroke="#1a1a1a" stroke-width="0.2"> = 0.80</tspan></text>
<path d="M267.8 411.1H290.6" stroke="#FDD420" stroke-width="1.7" fill="none"/>
<text x="292.8" y="414.35" font-family='"Liberation Sans", Arial, Helvetica, sans-serif' font-size="7.7" fill="#1a1a1a"><tspan font-family='"Liberation Serif", "Times New Roman", serif' font-size="8.6">α</tspan><tspan dx="0.5" font-weight="bold" stroke="#1a1a1a" stroke-width="0.2"> = 0.85</tspan></text>
<path d="M267.8 422.7H290.6" stroke="#1CBEC0" stroke-width="1.7" fill="none"/>
<text x="292.8" y="425.95" font-family='"Liberation Sans", Arial, Helvetica, sans-serif' font-size="7.7" fill="#1a1a1a"><tspan font-family='"Liberation Serif", "Times New Roman", serif' font-size="8.6">α</tspan><tspan dx="0.5" font-weight="bold" stroke="#1a1a1a" stroke-width="0.2"> = 0.90</tspan></text>
<path d="M267.8 434.0H290.6" stroke="#FF9AC9" stroke-width="1.7" fill="none"/>
<text x="292.8" y="437.25" font-family='"Liberation Sans", Arial, Helvetica, sans-serif' font-size="7.7" fill="#1a1a1a"><tspan font-family='"Liberation Serif", "Times New Roman", serif' font-size="8.6">α</tspan><tspan dx="0.5" font-weight="bold" stroke="#1a1a1a" stroke-width="0.2"> = 0.95</tspan></text>
<path d="M267.8 445.25H290.6" stroke="#A51C3E" stroke-width="1.7" fill="none"/>
<text x="292.8" y="448.50" font-family='"Liberation Sans", Arial, Helvetica, sans-serif' font-size="7.7" fill="#1a1a1a"><tspan font-family='"Liberation Serif", "Times New Roman", serif' font-size="8.6">α</tspan><tspan dx="0.5" font-weight="bold" stroke="#1a1a1a" stroke-width="0.2"> = 1.00</tspan></text>
</g>
</svg>
</body>
</html>
